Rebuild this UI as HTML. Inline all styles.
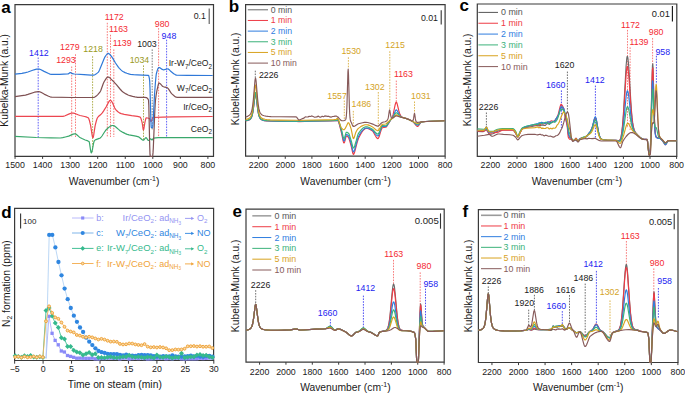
<!DOCTYPE html>
<html><head><meta charset="utf-8"><title>Figure</title>
<style>html,body{margin:0;padding:0;background:#fff;}svg{display:block;}text{font-family:"Liberation Sans",sans-serif;}</style>
</head><body>
<svg width="685" height="394" viewBox="0 0 685 394" font-family='"Liberation Sans", sans-serif'><rect width="685" height="394" fill="#fff"/><path d="M15 4.6 H213.5 V156.3 H15 Z" fill="none" stroke="#3a3a3a" stroke-width="1.2"/>
<line x1="15.05" y1="156.3" x2="15.05" y2="158.9" stroke="#3a3a3a" stroke-width="1.0"/>
<text x="15.05" y="168" font-size="8.8" fill="#1a1a1a" text-anchor="middle">1500</text>
<line x1="42.6" y1="156.3" x2="42.6" y2="158.9" stroke="#3a3a3a" stroke-width="1.0"/>
<text x="42.6" y="168" font-size="8.8" fill="#1a1a1a" text-anchor="middle">1400</text>
<line x1="70.15" y1="156.3" x2="70.15" y2="158.9" stroke="#3a3a3a" stroke-width="1.0"/>
<text x="70.15" y="168" font-size="8.8" fill="#1a1a1a" text-anchor="middle">1300</text>
<line x1="97.7" y1="156.3" x2="97.7" y2="158.9" stroke="#3a3a3a" stroke-width="1.0"/>
<text x="97.7" y="168" font-size="8.8" fill="#1a1a1a" text-anchor="middle">1200</text>
<line x1="125.25" y1="156.3" x2="125.25" y2="158.9" stroke="#3a3a3a" stroke-width="1.0"/>
<text x="125.25" y="168" font-size="8.8" fill="#1a1a1a" text-anchor="middle">1100</text>
<line x1="152.8" y1="156.3" x2="152.8" y2="158.9" stroke="#3a3a3a" stroke-width="1.0"/>
<text x="152.8" y="168" font-size="8.8" fill="#1a1a1a" text-anchor="middle">1000</text>
<line x1="180.35" y1="156.3" x2="180.35" y2="158.9" stroke="#3a3a3a" stroke-width="1.0"/>
<text x="180.35" y="168" font-size="8.8" fill="#1a1a1a" text-anchor="middle">900</text>
<line x1="207.9" y1="156.3" x2="207.9" y2="158.9" stroke="#3a3a3a" stroke-width="1.0"/>
<text x="207.9" y="168" font-size="8.8" fill="#1a1a1a" text-anchor="middle">800</text>
<text x="114.1" y="185.3" font-size="10.3" fill="#1a1a1a" text-anchor="middle">Wavenumber (cm<tspan font-size="7" dy="-4">-1</tspan><tspan dy="4">)</tspan></text>
<text transform="translate(8.4 80.3) rotate(-90)" font-size="10.3" fill="#1a1a1a" text-anchor="middle">Kubelka-Munk (a.u.)</text>
<text x="1.2" y="13.2" font-size="17" fill="#000" font-weight="bold">a</text>
<line x1="209.2" y1="8.6" x2="209.2" y2="23.9" stroke="#5a5a5a" stroke-width="1.1"/>
<text x="205.9" y="19.3" font-size="8.8" fill="#1a1a1a" text-anchor="end">0.1</text>
<line x1="38.2" y1="57.5" x2="38.2" y2="137.5" stroke="#3a3af5" stroke-width="0.8" stroke-dasharray="1.6 1.2"/>
<line x1="75.5" y1="54.3" x2="75.5" y2="137" stroke="#f55a5a" stroke-width="0.8" stroke-dasharray="1.6 1.2"/>
<line x1="71.7" y1="66.5" x2="71.7" y2="137" stroke="#f55a5a" stroke-width="0.8" stroke-dasharray="1.6 1.2"/>
<line x1="92.6" y1="56.2" x2="92.6" y2="152" stroke="#9a9a22" stroke-width="0.8" stroke-dasharray="1.6 1.2"/>
<line x1="107.3" y1="22.8" x2="107.3" y2="137" stroke="#f55a5a" stroke-width="0.8" stroke-dasharray="1.6 1.2"/>
<line x1="110.5" y1="34.8" x2="110.5" y2="137" stroke="#f55a5a" stroke-width="0.8" stroke-dasharray="1.6 1.2"/>
<line x1="113.8" y1="49.4" x2="113.8" y2="137" stroke="#f55a5a" stroke-width="0.8" stroke-dasharray="1.6 1.2"/>
<line x1="152.2" y1="49.4" x2="152.2" y2="130" stroke="#808080" stroke-width="1.0" stroke-dasharray="1.6 1.2"/>
<line x1="143.5" y1="65.4" x2="143.5" y2="140.4" stroke="#9a9a22" stroke-width="0.8" stroke-dasharray="1.6 1.2"/>
<line x1="158.6" y1="28.1" x2="158.6" y2="137.3" stroke="#f55a5a" stroke-width="0.8" stroke-dasharray="1.6 1.2"/>
<line x1="166.6" y1="39.7" x2="166.6" y2="137.3" stroke="#3a3af5" stroke-width="0.8" stroke-dasharray="1.6 1.2"/>
<polyline points="15,136.4 36.3,137.5 51,137.9 60.3,138 62.7,137.7 65.4,137 68.7,136.1 73.2,134.1 74.4,133.8 75.3,133.8 75.9,134.1 76.5,134.5 79.2,136.9 80.4,137.7 82.5,138.8 85.2,140 87.9,140.9 88.8,141.4 89.1,141.6 89.4,142.6 89.7,144.3 90.6,150.5 90.9,152 91.2,152.8 91.5,152.8 91.8,152.1 92.1,151 93.6,143.1 94.2,141 94.5,140.6 95.1,140.1 96,139.6 99.3,138.4 100.2,137.9 100.8,137.5 102,136 105,131.3 106.2,129.7 108.3,127.8 109.8,126.6 111,125.9 112.2,125.5 112.8,125.5 113.4,125.6 114.6,126.1 115.8,127 118.5,129.4 119.7,130.4 123,132.4 125.4,133.6 127.2,134.4 129,134.9 135.9,136.2 138.6,136.9 139.2,137.2 139.8,137.7 141.9,139.5 142.5,139.9 143.1,140.2 143.4,140.2 143.7,140.1 144.3,139.5 145.5,137.9 145.8,137.7 146.1,137.7 146.4,137.9 146.7,138.2 147.9,140.1 148.2,140.4 148.5,140.5 148.8,140.4 149.1,140.1 150,139.1 150.3,138.8 150.6,138.8 150.9,139 151.8,139.9 152.1,140 152.4,139.7 153.3,138.3 153.6,138.2 155.7,137.8 158.1,137.6 212.7,137.6" fill="none" stroke="#3aa86c" stroke-width="1.2" stroke-linejoin="round"/>
<polyline points="15,116.3 63,116.3 63.9,116.2 65.1,115.8 69.3,113.9 71.1,113.2 72.6,113 73.5,113.1 74.4,113.3 75.6,113.7 78.6,115 80.1,115.5 84.6,116.5 86.1,116.9 87.6,117.5 88.5,118.1 88.8,118.7 89.4,120.5 90.6,125.4 92.1,135.1 92.4,136.6 92.7,137.5 93,137.7 93.3,137 93.6,135.7 95.1,125.9 96.3,121 97.2,118.3 97.8,117.3 98.4,116.5 99.3,115.7 101.1,114.2 102.3,112.9 103.5,111.1 106.2,106.7 108.9,101.6 109.8,100.5 110.4,100.3 111,100.6 111.9,101.8 112.8,103.6 114.6,107.7 115.5,109.3 117.6,111.5 119.4,112.9 121.2,113.6 124.2,114.4 131.7,115.7 137.4,116.4 139.5,116.9 140.1,117.1 140.4,117.4 141,118.6 141.9,121.6 142.2,123 143.1,129.2 143.4,130 143.7,129.4 144,128 144.9,122.4 145.8,118.6 146.1,117.9 147.6,118 149.4,118.5 149.7,118.7 150.6,121 150.9,121.5 151.2,121.4 151.5,120.9 152.4,118.4 152.7,117.8 153,117.5 162.6,117.1 173.1,116.9 212.7,116.5" fill="none" stroke="#ec4650" stroke-width="1.2" stroke-linejoin="round"/>
<polyline points="15,96.7 21.9,95.7 25.5,95.1 27.9,94.4 34.5,92.2 36.6,91.8 38.4,91.6 39.3,91.7 40.5,92.1 44.1,94.1 48.6,96.2 50.1,96.8 51.6,97.2 72,97.5 93.6,97.5 94.8,97.1 96.3,96.1 97.8,94.6 99.9,92.1 100.8,90.5 103.2,83.7 104.1,81.8 105.9,78.9 106.8,77.7 107.7,77.1 108,77 108.6,77.1 109.2,77.4 109.8,77.9 113.1,81.1 116.4,84.7 120,89 121.8,91 123.3,92.2 126,93.9 128.1,95 129.9,95.7 132.6,96.4 135,96.9 137.7,97.3 144.6,97.4 146.4,97.6 147.3,98.2 148.2,99.4 148.5,100 148.8,105.1 149.7,144.9 150,154.4 150.3,156.5 152.4,156.5 152.7,155.9 153,152.9 153.3,148 154.8,111.4 155.4,101 156,96 156.9,90.7 158.4,84.2 158.7,83.4 159,83.1 159.6,83.3 160.2,83.7 162,85.7 162.9,86.5 163.8,86.8 166.2,87.3 167.4,87.8 168,88.4 168.6,89.2 170.7,92.4 171.6,93.6 174.6,96.3 175.5,96.9 176.4,97.2 177,97.3 212.7,97.3" fill="none" stroke="#7e5052" stroke-width="1.2" stroke-linejoin="round"/>
<polyline points="15,74.1 21.9,73.3 25.5,72.7 27.9,72 32.7,70.3 34.8,69.6 36.6,69.2 38.4,69 39.3,69.1 40.5,69.5 44.1,71.4 48.6,73.5 50.1,74.1 51.3,74.4 59.7,74.3 67.8,73.9 68.4,73.8 69.6,72.9 70.2,72.6 70.8,72.7 72.3,73.7 74.4,74 84,74.6 90.9,75.1 93,75.2 93.9,75.1 94.8,74.8 96,74.1 97.5,72.9 98.4,72.1 99,71.1 99.6,69.8 104.1,58.7 105,56.8 105.9,55.5 107.1,54 108,53.4 108.6,53.4 109.2,53.8 109.8,54.4 111.9,57 112.8,58.4 115.5,63 118.5,67.3 119.4,68.4 120.9,69.9 122.1,70.9 123,71.5 125.1,72.6 126.9,73.3 128.7,73.9 130.5,74.3 133.5,74.7 137.1,74.9 148.2,75.4 148.5,75.4 148.8,75.8 149.4,78.7 149.7,81.1 150,88.3 150.9,121.4 151.2,127.2 151.5,127.6 152.4,127.6 152.7,126.9 153,123.7 154.5,95 155.4,82.9 156,76.3 156.3,74 157.2,70.6 158.1,68.3 158.7,67.6 159,67.5 159.3,67.5 159.9,67.7 162.3,69.4 163.2,69.8 164.4,69.7 167.1,69 168,68.9 168.3,69 169.2,69.7 170.7,71.3 173.7,73.7 175.2,74.6 176.4,75.1 187.8,75.3 212.7,75.5" fill="none" stroke="#2f78d8" stroke-width="1.2" stroke-linejoin="round"/>
<text x="29.1" y="56.1" font-size="8.8" fill="#2424f0">1412</text>
<text x="60" y="49.8" font-size="8.8" fill="#f42a32">1279</text>
<text x="56.2" y="63.1" font-size="8.8" fill="#f42a32">1293</text>
<text x="83.3" y="52.4" font-size="8.8" fill="#9a9a22">1218</text>
<text x="104.8" y="20" font-size="8.8" fill="#f42a32">1172</text>
<text x="109.1" y="31.9" font-size="8.8" fill="#f42a32">1163</text>
<text x="112.7" y="45.9" font-size="8.8" fill="#f42a32">1139</text>
<text x="137.2" y="46.8" font-size="8.8" fill="#1a1a1a">1003</text>
<text x="129.7" y="62.8" font-size="8.8" fill="#9a9a22">1034</text>
<text x="154.8" y="26.7" font-size="8.8" fill="#f42a32">980</text>
<text x="161.6" y="38.8" font-size="8.8" fill="#2424f0">948</text>
<text x="212" y="66.4" font-size="8.6" fill="#1a1a1a" text-anchor="end">Ir-W<tspan font-size="6.3" dy="2.2">7</tspan><tspan dy="-2.2">/CeO</tspan><tspan font-size="6.3" dy="2.2">2</tspan></text>
<text x="212" y="91.2" font-size="8.6" fill="#1a1a1a" text-anchor="end">W<tspan font-size="6.3" dy="2.2">7</tspan><tspan dy="-2.2">/CeO</tspan><tspan font-size="6.3" dy="2.2">2</tspan></text>
<text x="212" y="110" font-size="8.6" fill="#1a1a1a" text-anchor="end">Ir/CeO<tspan font-size="6.3" dy="2.2">2</tspan></text>
<text x="212" y="131.9" font-size="8.6" fill="#1a1a1a" text-anchor="end">CeO<tspan font-size="6.3" dy="2.2">2</tspan></text>
<path d="M245.6 4.6 H445.1 V156.2 H245.6 Z" fill="none" stroke="#3a3a3a" stroke-width="1.2"/>
<line x1="258.6" y1="156.2" x2="258.6" y2="158.8" stroke="#3a3a3a" stroke-width="1.0"/>
<text x="258.6" y="168" font-size="8.8" fill="#1a1a1a" text-anchor="middle">2200</text>
<line x1="285.25" y1="156.2" x2="285.25" y2="158.8" stroke="#3a3a3a" stroke-width="1.0"/>
<text x="285.25" y="168" font-size="8.8" fill="#1a1a1a" text-anchor="middle">2000</text>
<line x1="311.9" y1="156.2" x2="311.9" y2="158.8" stroke="#3a3a3a" stroke-width="1.0"/>
<text x="311.9" y="168" font-size="8.8" fill="#1a1a1a" text-anchor="middle">1800</text>
<line x1="338.55" y1="156.2" x2="338.55" y2="158.8" stroke="#3a3a3a" stroke-width="1.0"/>
<text x="338.55" y="168" font-size="8.8" fill="#1a1a1a" text-anchor="middle">1600</text>
<line x1="365.2" y1="156.2" x2="365.2" y2="158.8" stroke="#3a3a3a" stroke-width="1.0"/>
<text x="365.2" y="168" font-size="8.8" fill="#1a1a1a" text-anchor="middle">1400</text>
<line x1="391.85" y1="156.2" x2="391.85" y2="158.8" stroke="#3a3a3a" stroke-width="1.0"/>
<text x="391.85" y="168" font-size="8.8" fill="#1a1a1a" text-anchor="middle">1200</text>
<line x1="418.5" y1="156.2" x2="418.5" y2="158.8" stroke="#3a3a3a" stroke-width="1.0"/>
<text x="418.5" y="168" font-size="8.8" fill="#1a1a1a" text-anchor="middle">1000</text>
<line x1="445.15" y1="156.2" x2="445.15" y2="158.8" stroke="#3a3a3a" stroke-width="1.0"/>
<text x="445.15" y="168" font-size="8.8" fill="#1a1a1a" text-anchor="middle">800</text>
<text x="345.6" y="184.9" font-size="10.3" fill="#1a1a1a" text-anchor="middle">Wavenumber (cm<tspan font-size="7" dy="-4">-1</tspan><tspan dy="4">)</tspan></text>
<text transform="translate(239.1 78.8) rotate(-90)" font-size="10.3" fill="#1a1a1a" text-anchor="middle">Kubelka-Munk (a.u.)</text>
<text x="228.8" y="12.4" font-size="17" fill="#000" font-weight="bold">b</text>
<line x1="441.2" y1="10.3" x2="441.2" y2="24.5" stroke="#333" stroke-width="1.1"/>
<text x="438" y="20.8" font-size="8.8" fill="#1a1a1a" text-anchor="end">0.01</text>
<line x1="247.8" y1="9.8" x2="268" y2="9.8" stroke="#6a6a6a" stroke-width="1.0"/>
<text x="270.8" y="12.8" font-size="8.7" fill="#555555">0 min</text>
<line x1="247.8" y1="20.46" x2="268" y2="20.46" stroke="#ee3b45" stroke-width="1.0"/>
<text x="270.8" y="23.46" font-size="8.7" fill="#ee3b45">1 min</text>
<line x1="247.8" y1="31.12" x2="268" y2="31.12" stroke="#2f7ddf" stroke-width="1.0"/>
<text x="270.8" y="34.12" font-size="8.7" fill="#2f7ddf">2 min</text>
<line x1="247.8" y1="41.78" x2="268" y2="41.78" stroke="#3bb27a" stroke-width="1.0"/>
<text x="270.8" y="44.78" font-size="8.7" fill="#3bb27a">3 min</text>
<line x1="247.8" y1="52.44" x2="268" y2="52.44" stroke="#d8a21e" stroke-width="1.0"/>
<text x="270.8" y="55.44" font-size="8.7" fill="#d8a21e">5 min</text>
<line x1="247.8" y1="63.1" x2="268" y2="63.1" stroke="#875a5a" stroke-width="1.0"/>
<text x="270.8" y="66.1" font-size="8.7" fill="#875a5a">10 min</text>
<line x1="255.3" y1="70.7" x2="255.3" y2="78" stroke="#4a4a4a" stroke-width="0.8" stroke-dasharray="1.6 1.2"/>
<line x1="344.3" y1="100.5" x2="344.3" y2="121" stroke="#d4a326" stroke-width="0.8" stroke-dasharray="1.6 1.2"/>
<line x1="348.4" y1="57.3" x2="348.4" y2="68.5" stroke="#d4a326" stroke-width="0.8" stroke-dasharray="1.6 1.2"/>
<line x1="353.3" y1="110.9" x2="353.3" y2="126" stroke="#d4a326" stroke-width="0.8" stroke-dasharray="1.6 1.2"/>
<line x1="378.3" y1="92" x2="378.3" y2="130" stroke="#d4a326" stroke-width="0.8" stroke-dasharray="1.6 1.2"/>
<line x1="389.8" y1="51.3" x2="389.8" y2="109.5" stroke="#d4a326" stroke-width="0.8" stroke-dasharray="1.6 1.2"/>
<line x1="396.3" y1="80.6" x2="396.3" y2="102" stroke="#f55a5a" stroke-width="0.8" stroke-dasharray="1.6 1.2"/>
<line x1="414.5" y1="101.5" x2="414.5" y2="113" stroke="#d4a326" stroke-width="0.8" stroke-dasharray="1.6 1.2"/>
<polyline points="245.6,120.9 248,120.4 249.5,119.8 250.1,119.4 250.7,118.8 251.3,117.8 251.6,117.2 252.2,115.4 252.8,112.6 253.4,108.7 254.9,96.4 255.2,94.9 255.5,94.3 255.8,94.9 256.1,96.4 257.6,108.7 258.2,112.6 258.8,115.3 259.4,117.1 259.7,117.8 260.3,118.7 261.2,119.5 262.7,120.2 264.2,120.6 266,120.9 271.1,121.2 279.8,121.4 296.3,121.5 299,121.6 311,121.2 331.1,121 335.9,120.8 337.4,120.5 337.7,120.5 338,120.8 338.6,122.1 339.5,125 341.6,133.4 343.1,140.9 343.7,142.7 344,143 344.3,142.7 344.6,142 345.8,137.3 346.1,136.5 346.4,136 346.7,136 347.3,136.3 348.2,137.2 348.8,138.1 349.7,140.8 351.2,146.2 352.7,152.8 353,153.7 353.3,154.3 353.6,154.4 353.9,154 354.5,152.6 357.5,141.2 358.4,138.5 360.5,134.4 362,132 363.5,130 364.7,129 365.6,128.5 366.2,128.4 367.7,128.5 369.5,129.2 372.2,130.7 372.8,131.3 373.4,132.2 375.5,136 376.4,137.5 377.3,138.4 377.9,138.6 378.2,138.5 378.5,138.1 379.1,136.8 380.9,130.8 381.8,128.5 382.1,128 382.4,127.8 385.4,127.3 386,127.1 386.3,126.9 386.9,126.1 388.7,123.2 390.5,120.1 392,117.7 392.6,116.2 393.2,114.2 395.3,104.2 395.9,102.5 396.2,102.2 396.5,102.3 396.8,102.8 397.1,103.7 398.9,111 399.5,113.1 400.1,114.6 401,116.1 401.6,116.7 402.5,117.2 408.2,119.1 410.3,120.1 412.4,121.2 413,121.7 413.6,122.4 416,125.4 416.6,126 417.2,126.3 417.8,126.3 418.4,125.9 420.8,122.4 421.4,121.9 421.7,121.9 425.3,121.5 429.5,121.2 444.8,120.7" fill="none" stroke="#ee3b45" stroke-width="1.15" stroke-linejoin="round"/>
<polyline points="245.6,120.8 248,120.3 249.5,119.7 250.1,119.2 250.7,118.6 251.3,117.7 251.6,117 252.2,115.1 252.8,112.3 253.4,108.4 254.9,95.8 255.2,94.3 255.5,93.7 255.8,94.3 256.1,95.8 257.6,108.3 258.5,113.8 259.1,116.1 259.7,117.6 260.6,118.9 261.5,119.6 262.7,120.1 264.5,120.6 266.6,120.8 269.6,121 277.1,121.2 296,121.4 299,121.5 311,121.1 332.3,120.8 335.9,120.7 336.2,120.7 337.4,120.2 337.7,120.2 338,120.5 338.6,121.5 339.5,124.1 341.6,131.6 343.1,138.9 343.7,140.7 344,141 344.3,140.7 344.6,140 345.8,135.7 346.1,134.9 346.4,134.5 346.7,134.5 347.3,134.7 348.5,135.7 348.8,136.2 349.4,137.7 351.2,143.7 352.7,150.3 353,151.2 353.3,151.8 353.6,151.9 353.9,151.6 354.2,151 354.8,149.2 358.1,137.2 359.3,134.9 360.8,132.5 362,130.9 363.2,129.6 364.7,128.5 365.9,128 367.4,128.1 368.3,128.3 369.5,128.7 372.5,130.2 373.4,131.2 375.5,134 376.4,135.1 377.3,135.8 377.9,136 378.2,135.8 378.5,135.5 379.1,134.3 380.9,128.9 381.8,126.9 382.1,126.6 382.4,126.4 386,126.4 386.6,126 388.7,123 390.8,119.6 392,118.4 392.6,117.6 393.5,115.8 395.3,111 395.9,110 396.2,109.9 396.5,110 397.1,110.6 399.2,114.6 400.1,115.9 401,116.7 402.2,117.3 407.6,118.9 410.9,120.5 413,121.7 415.7,124.2 416.6,124.9 417.2,125.1 417.8,125.2 418.4,124.8 420.8,122.3 421.4,121.9 421.7,121.9 425.3,121.5 429.5,121.2 444.8,120.7" fill="none" stroke="#2f7ddf" stroke-width="1.15" stroke-linejoin="round"/>
<polyline points="245.6,120.6 248,120 249.5,119.4 250.1,119 250.7,118.3 251.3,117.3 251.6,116.7 252.2,114.7 252.8,111.8 253.4,107.7 254.9,94.8 255.2,93.2 255.5,92.6 255.8,93.2 256.1,94.8 257.6,107.7 258.5,113.4 259.1,115.8 259.7,117.3 260.6,118.6 261.5,119.3 262.7,119.9 264.5,120.3 266.6,120.6 269.6,120.8 277.1,121 296,121.2 299,121.3 310.4,120.9 327.2,120.8 335,120.5 336.2,120.4 337.1,119.7 337.4,119.5 337.7,119.5 338,119.8 338.6,120.7 339.5,123.1 341.6,130 343.1,136.7 343.7,138.3 344,138.6 344.3,138.3 344.6,137.7 345.8,133.4 346.1,132.6 346.4,132.2 346.7,132.2 347.3,132.4 348.5,133.2 348.8,133.6 349.4,135 351.2,140.6 352.7,146.6 353,147.4 353.3,147.9 353.6,148 353.9,147.7 354.2,147.2 354.8,145.5 356.3,140.5 357.5,135.9 358.1,134.1 359,132.6 360.5,130.6 361.7,129.2 362.9,128.1 364.4,127.2 365.6,126.8 366.2,126.7 367.1,126.7 368.6,127.2 370.1,127.9 372.5,129.2 373.4,130.1 375.8,132.8 376.7,133.6 377.6,134 377.9,134.1 378.2,134 378.5,133.7 379.1,132.6 380.9,127.8 381.8,126 382.1,125.7 382.4,125.6 385.7,125.7 386,125.7 386.3,125.6 386.9,124.9 390.5,119.9 391.1,119.3 392.3,118.4 392.9,117.7 393.5,116.8 395.3,113.5 395.9,112.8 396.2,112.7 396.5,112.7 397.1,113.1 399.2,115.5 400.7,116.8 401.9,117.3 406.7,118.7 408.8,119.5 412.7,121.4 415.7,123.6 416.6,124.1 417.2,124.2 417.8,124.3 418.4,124 420.8,122.2 421.7,121.9 425.3,121.5 429.5,121.3 444.8,120.7" fill="none" stroke="#3bb27a" stroke-width="1.15" stroke-linejoin="round"/>
<polyline points="245.6,119.5 248,118.9 249.5,118.1 250.1,117.5 250.7,116.7 251.3,115.5 251.6,114.7 252.2,112.3 252.8,108.8 253.4,103.7 254.9,87.8 255.2,85.8 255.5,85.1 255.8,85.8 256.1,87.8 257.6,103.7 258.2,108.7 258.8,112.3 259.4,114.7 260,116.2 260.9,117.5 262.1,118.4 263.3,118.9 265.1,119.3 267.2,119.7 270.2,119.9 278.9,120.1 296,120.2 299,120.5 303.8,120.2 325.7,119.9 333.2,119.7 336.2,119.4 337.1,118.5 337.4,118.3 337.7,118.4 338,118.7 338.6,120 340.4,125.9 341,127.3 341.3,127.8 342.2,128.7 342.8,129.2 343.4,129.6 344,129.7 344.3,129.6 344.6,129.3 345.2,128.4 346.7,125.5 347.9,123 348.2,122.7 348.5,122.7 348.8,123 349.1,123.4 349.7,124.8 351.2,129.1 352.7,136.6 353,137.8 353.3,138.4 353.6,138.6 353.9,138.2 354.2,137.6 355.7,132.7 356,132 357.2,129.8 357.8,129 358.4,128.4 360.2,127.1 361.7,126.1 363.5,125.3 365,124.8 366.5,124.7 368,124.9 369.8,125.6 372.5,126.9 373.4,127.6 375.8,129.7 376.7,130.3 377.6,130.7 378.2,130.6 378.5,130.4 379.1,129.6 381.2,125.6 381.8,124.8 382.1,124.5 383,124.2 385.4,124 386.3,123.7 388.4,121.8 390.5,119.6 391.1,119.2 392.3,118.6 392.9,118.1 393.5,117.6 395.3,115.4 395.9,115 396.2,114.9 397.1,115.1 400.1,116.7 401,117.1 405.8,118.4 407.3,118.9 415.4,122.7 416.3,123.1 417.2,123.3 417.8,123.3 418.4,123.2 421.1,122 423.2,121.7 430.4,121.2 444.8,120.7" fill="none" stroke="#d8a21e" stroke-width="1.15" stroke-linejoin="round"/>
<polyline points="245.6,117 246.8,116.6 248,116.1 248.9,115.6 249.5,115.1 250.1,114.5 250.7,113.6 251.3,112.2 251.6,111.3 252.2,108.6 252.8,104.6 253.4,99 254.9,81.2 255.2,79 255.5,78.2 255.8,79 256.1,81.1 257.6,98.7 258.2,104.3 258.8,108.2 259.4,110.8 259.7,111.7 260.3,113 261.2,114.2 261.8,114.7 262.7,115.2 264.2,115.7 266,116.1 268.1,116.4 271.1,116.6 279.8,116.8 296,116.9 296.3,117 296.6,117.2 298.4,119.6 298.7,119.9 299,119.9 300.2,119.7 302.6,118.6 303.8,118.1 304.1,118 305.3,116.9 306.5,117 308,116.9 309.2,116.4 310.4,116.5 311.6,116 311.9,115.9 314.3,117.1 314.6,117.2 317,116.9 318.2,116.1 318.5,116.2 319.7,117.1 320.9,117.1 322.1,116.2 322.4,116.2 323.3,116.7 323.6,116.7 324.8,115.9 327.5,116.4 328.7,116.2 329.9,116.9 331.1,117.1 331.4,117.1 332.6,116.5 333.8,116.4 335.3,116.1 336.5,116.1 337.7,117.2 338,117.1 338.3,117.3 340.1,119.5 341,120.4 341.9,120.7 342.8,120.8 343.7,120.7 344.6,120.5 345.2,120.1 345.5,119.8 345.8,119.2 346.1,118 346.4,115.5 346.7,111.1 347,103.7 347.9,71.9 348.2,69.1 348.5,74.8 349.4,107.3 349.7,113.8 350,117.7 350.3,119.9 350.6,121.1 352.4,125.1 353,126.2 353.3,126.5 353.9,126.5 354.5,126.3 357.5,124.2 358.4,123.8 360.5,123.2 362.6,122.7 364.4,122.4 365.9,122.4 367.7,122.5 369.5,123 372.8,124.1 375.5,125.4 376.7,125.9 377.9,126.1 378.5,125.9 379.4,125.2 381.2,123.2 381.8,122.7 382.7,122.2 385.1,121.7 386,121.4 386.6,120.9 387.5,119.8 388.1,118.4 388.4,117.2 389.3,110.9 389.6,109.9 389.9,110.6 390.5,114.5 390.8,116.1 391.1,117.2 391.4,117.7 391.7,117.9 392,118 392.6,117.9 393.2,117.7 395.6,116.1 396.2,115.9 396.8,116 400.7,117.1 406.1,118.5 407.6,119.1 410.9,120.6 411.8,120.9 412.4,121 412.7,120.9 413,120.6 413.3,119.8 413.6,118.4 414.2,114.3 414.5,113.4 414.8,114.5 415.4,118.9 415.7,120.5 416,121.4 416.3,121.9 416.6,122.1 417.2,122.3 418.4,122.3 421.4,121.9 427.1,121.5 444.8,120.7" fill="none" stroke="#875a5a" stroke-width="1.15" stroke-linejoin="round"/>
<text x="258.9" y="77.8" font-size="8.8" fill="#1a1a1a">2226</text>
<text x="341.4" y="53.8" font-size="8.8" fill="#d4a326">1530</text>
<text x="327.3" y="98.5" font-size="8.8" fill="#d4a326">1557</text>
<text x="351.6" y="107.4" font-size="8.8" fill="#d4a326">1486</text>
<text x="365" y="89.5" font-size="8.8" fill="#d4a326">1302</text>
<text x="385.3" y="47.8" font-size="8.8" fill="#d4a326">1215</text>
<text x="393.9" y="77.1" font-size="8.8" fill="#f42a32">1163</text>
<text x="411.1" y="99.3" font-size="8.8" fill="#d4a326">1031</text>
<path d="M477.3 4 H676.8 V156.3 H477.3 Z" fill="none" stroke="#3a3a3a" stroke-width="1.2"/>
<line x1="490.4" y1="156.3" x2="490.4" y2="158.9" stroke="#3a3a3a" stroke-width="1.0"/>
<text x="490.4" y="168" font-size="8.8" fill="#1a1a1a" text-anchor="middle">2200</text>
<line x1="517" y1="156.3" x2="517" y2="158.9" stroke="#3a3a3a" stroke-width="1.0"/>
<text x="517" y="168" font-size="8.8" fill="#1a1a1a" text-anchor="middle">2000</text>
<line x1="543.6" y1="156.3" x2="543.6" y2="158.9" stroke="#3a3a3a" stroke-width="1.0"/>
<text x="543.6" y="168" font-size="8.8" fill="#1a1a1a" text-anchor="middle">1800</text>
<line x1="570.2" y1="156.3" x2="570.2" y2="158.9" stroke="#3a3a3a" stroke-width="1.0"/>
<text x="570.2" y="168" font-size="8.8" fill="#1a1a1a" text-anchor="middle">1600</text>
<line x1="596.8" y1="156.3" x2="596.8" y2="158.9" stroke="#3a3a3a" stroke-width="1.0"/>
<text x="596.8" y="168" font-size="8.8" fill="#1a1a1a" text-anchor="middle">1400</text>
<line x1="623.4" y1="156.3" x2="623.4" y2="158.9" stroke="#3a3a3a" stroke-width="1.0"/>
<text x="623.4" y="168" font-size="8.8" fill="#1a1a1a" text-anchor="middle">1200</text>
<line x1="650" y1="156.3" x2="650" y2="158.9" stroke="#3a3a3a" stroke-width="1.0"/>
<text x="650" y="168" font-size="8.8" fill="#1a1a1a" text-anchor="middle">1000</text>
<line x1="676.6" y1="156.3" x2="676.6" y2="158.9" stroke="#3a3a3a" stroke-width="1.0"/>
<text x="676.6" y="168" font-size="8.8" fill="#1a1a1a" text-anchor="middle">800</text>
<text x="577" y="184.9" font-size="10.3" fill="#1a1a1a" text-anchor="middle">Wavenumber (cm<tspan font-size="7" dy="-4">-1</tspan><tspan dy="4">)</tspan></text>
<text transform="translate(471 79.8) rotate(-90)" font-size="10.3" fill="#1a1a1a" text-anchor="middle">Kubelka-Munk (a.u.)</text>
<text x="459.5" y="11.3" font-size="17" fill="#000" font-weight="bold">c</text>
<line x1="672.4" y1="6.1" x2="672.4" y2="21.5" stroke="#111" stroke-width="1.1"/>
<text x="669.9" y="16.8" font-size="9.3" fill="#1a1a1a" text-anchor="end">0.01</text>
<line x1="478.4" y1="12.4" x2="498" y2="12.4" stroke="#555555" stroke-width="1.0"/>
<text x="501" y="15.4" font-size="8.9" fill="#555555">0 min</text>
<line x1="478.4" y1="23.24" x2="498" y2="23.24" stroke="#ee3b45" stroke-width="1.0"/>
<text x="501" y="26.24" font-size="8.9" fill="#ee3b45">1 min</text>
<line x1="478.4" y1="34.08" x2="498" y2="34.08" stroke="#2f7ddf" stroke-width="1.0"/>
<text x="501" y="37.08" font-size="8.9" fill="#2f7ddf">2 min</text>
<line x1="478.4" y1="44.92" x2="498" y2="44.92" stroke="#3bb27a" stroke-width="1.0"/>
<text x="501" y="47.92" font-size="8.9" fill="#3bb27a">3 min</text>
<line x1="478.4" y1="55.76" x2="498" y2="55.76" stroke="#d8a21e" stroke-width="1.0"/>
<text x="501" y="58.76" font-size="8.9" fill="#d8a21e">5 min</text>
<line x1="478.4" y1="66.6" x2="498" y2="66.6" stroke="#875a5a" stroke-width="1.0"/>
<text x="501" y="69.6" font-size="8.9" fill="#875a5a">10 min</text>
<line x1="486.4" y1="112.5" x2="486.4" y2="127" stroke="#4a4a4a" stroke-width="0.8" stroke-dasharray="1.6 1.2"/>
<line x1="561.4" y1="90.4" x2="561.4" y2="128" stroke="#2424f0" stroke-width="0.8" stroke-dasharray="1.6 1.2"/>
<line x1="567.4" y1="71.6" x2="567.4" y2="113" stroke="#4a4a4a" stroke-width="0.8" stroke-dasharray="1.6 1.2"/>
<line x1="595.4" y1="85.6" x2="595.4" y2="139" stroke="#2424f0" stroke-width="0.8" stroke-dasharray="1.6 1.2"/>
<line x1="627.5" y1="29.9" x2="627.5" y2="128" stroke="#f55a5a" stroke-width="0.8" stroke-dasharray="1.6 1.2"/>
<line x1="630.1" y1="47.4" x2="630.1" y2="130" stroke="#f55a5a" stroke-width="0.8" stroke-dasharray="1.6 1.2"/>
<line x1="652.6" y1="38" x2="652.6" y2="64" stroke="#f55a5a" stroke-width="0.8" stroke-dasharray="1.6 1.2"/>
<line x1="656.4" y1="55.8" x2="656.4" y2="84" stroke="#2424f0" stroke-width="0.8" stroke-dasharray="1.6 1.2"/>
<polyline points="477.3,131.5 482.1,131.6 483,131.6 483.6,131.4 484.2,131 484.5,130.6 486,127.3 486.3,127 486.6,127.1 486.9,127.7 487.8,131 488.4,132.8 489,133.8 489.3,134 489.9,134.2 491.1,134.1 492.9,133.7 494.1,133.2 496.5,131.8 497.7,131.2 500.1,130.4 501.6,130.1 502.8,130 513,130 513.6,130.4 514.5,131.5 515.7,133.3 517.2,136.5 517.5,136.8 517.8,137 518.1,136.8 518.7,135.9 519.9,133.2 521.7,129.6 522.3,128.8 522.9,128.4 525,127.8 529.8,127 537.6,125.2 538.8,125.9 539.1,125.9 541.5,125.1 542.7,124.9 544.2,125.5 545.4,125.4 546.6,124 546.9,123.8 547.8,123.5 548.1,123.5 549.3,124.3 550.5,122.6 550.8,122.5 551.7,122.6 552,122.6 553.2,121.5 554.4,121.4 555,120.7 555.9,119.1 558.3,115.7 558.9,113.9 560.4,108.3 560.7,107.6 561,107.1 561.3,106.9 561.6,106.9 562.2,107.2 562.8,108.3 563.7,110.2 564.3,112.4 565.5,118 566.7,122.4 567.3,125.4 568.2,133.9 568.5,135 569.1,136.5 569.7,137.4 570.3,137.9 571.2,138.2 571.8,138.9 572.7,140.2 573,140.4 573.6,140.4 574.2,140.2 574.5,140 575.4,138.8 576,138.2 576.3,138.4 576.6,138.7 577.8,140.7 578.1,141 578.4,141 579,140.6 579.9,139.1 580.8,138.2 582.3,138.2 584.1,137.7 585.6,137.4 590.1,132 591.3,129.9 591.9,128.5 592.5,126.7 594.3,119.8 594.9,118.3 595.2,117.9 595.5,118 595.8,118.4 596.4,120.4 598.2,130.5 599.1,134.7 600,137.4 600.3,137.9 600.9,138.7 601.5,139.2 602.1,139.4 603.9,139.7 607.2,140 616.2,140.2 618.3,140.6 619.2,140.5 619.8,140.1 620.4,139.1 621,137.1 621.9,131.4 622.5,125.6 623.1,118.3 623.7,109.2 626.1,66 626.7,59.1 627,57.2 627.3,56.3 627.6,56.6 627.9,58 628.5,63.6 629.1,72.3 630.9,102.9 631.5,111.3 632.1,117.9 632.7,122.9 633.3,126.5 634.2,129.9 635.1,131.9 636,133.2 637.8,135.2 639.9,137.2 641.4,138.3 642.3,138.8 643.2,139.1 647.1,139.4 647.4,140 648.9,153.6 649.2,154.4 649.5,153.7 649.8,152.5 650.1,150.5 650.4,147.1 650.7,138.3 651.3,108.2 652.2,72.1 652.5,65 652.8,63.8 653.1,68.9 654.3,113.8 654.6,122.2 654.9,128.2 655.2,132.1 655.5,134.5 655.8,135.9 656.1,136.7 656.4,137.1 657,137.6 657.9,137.9 660,138.4 661.2,139.2 662.7,140.4 664.8,143 665.4,143.3 666,143.1 667.8,141 668.4,140.7 676.5,140.7" fill="none" stroke="#6a6a6a" stroke-width="1.15" stroke-linejoin="round"/>
<polyline points="477.3,131 483.6,131.2 484.5,131 485.7,130.3 486.3,130.2 486.6,130.3 486.9,130.6 488.4,132.7 489,133.1 489.9,133.2 496.2,132.4 498.3,132.1 499.2,131.8 501.6,130.5 502.5,130.2 513,130.2 513.3,130.3 513.9,130.9 515.4,132.9 516,133.9 517.2,136.5 517.5,136.8 517.8,137 518.1,136.8 518.4,136.5 519.9,133.2 522,129.2 522.6,128.6 524.4,127.6 527.1,126.7 531.6,125.6 534.9,124.9 537.6,125 538.8,124.4 540,124.7 540.3,124.7 541.5,123.3 542.7,123.8 543.9,124 544.2,123.9 545.4,122.6 546.6,122.9 548.1,122.2 549.3,122.2 550.5,121.3 551.7,120.8 552,120.9 553.2,121.8 555.6,119.7 557.1,117.3 558.3,114.1 560.1,106.7 560.7,104.8 561,104.3 561.3,104.4 561.6,104.6 562.8,106.4 563.7,108.2 564,109.3 565.5,118 566.7,123.6 567.3,127.2 568.2,136.9 569.1,138.7 569.7,139.3 571.2,139.5 571.5,139.5 571.8,139.6 572.7,140.5 573,140.7 573.3,140.7 574.2,140.2 575.4,138.9 576,138.4 576.3,138.8 576.6,139.3 577.5,141.4 577.8,141.7 578.1,141.6 578.4,141.3 579.3,139.5 579.9,138.8 580.8,138.4 582.3,137.6 584.1,137.4 585.3,137.1 585.6,137 586.5,136.4 587.4,135.5 588.9,133.4 590.1,132 591.3,129.9 591.9,128.5 592.5,126.7 594.3,119.8 594.9,118.3 595.2,118 595.5,118 595.8,118.4 596.4,120.4 598.2,130.6 599.1,134.8 600,137.4 600.3,137.9 600.9,138.7 601.5,139.2 602.1,139.4 603.9,139.8 606.9,140 615.9,140.3 618.3,140.7 619.2,140.7 619.8,140.3 620.4,139.5 621,137.7 621.9,132.6 622.5,127.4 623.1,120.9 623.7,112.9 626.1,74.9 626.7,68.9 627,67.1 627.3,66.3 627.6,66.5 627.9,67.7 628.5,72.6 629.1,80 630.6,102.5 631.5,113.9 632.4,122.1 633.3,127.2 634.2,130.2 635.1,132 636.6,134 639.6,137 641.1,138.2 642.6,138.9 643.8,139.2 646.2,139.3 647.1,139.4 647.4,140.1 648.6,151.4 648.9,153.7 649.2,154.5 649.5,153.9 649.8,152.8 650.1,150.8 650.4,147.6 650.7,139.1 651.3,109.9 652.2,75.7 652.5,68.9 652.8,67.8 653.1,72.6 654.3,115.1 654.6,123.1 654.9,128.8 655.2,132.5 655.5,134.8 655.8,136.1 656.1,136.8 656.7,137.5 657.9,138 659.7,138.3 660.3,138.6 660.9,139.1 662.7,141 664.5,144 665.1,144.6 665.4,144.7 665.7,144.6 666,144.3 667.8,141.2 668.1,140.9 668.4,140.7 676.5,140.7" fill="none" stroke="#ee3b45" stroke-width="1.15" stroke-linejoin="round"/>
<polyline points="477.3,130 483.6,130.2 484.5,130 485.7,129.4 486.3,129.2 486.6,129.4 486.9,129.7 488.1,131.5 488.7,132.1 489.3,132.3 490.2,132.4 492.9,132 494.1,131.6 497.4,130.2 499.8,129.8 501.9,129.5 504,129.5 513,129.3 513.6,129.6 514.2,130.2 515.7,132.3 517.2,136.2 517.5,136.7 517.8,136.9 518.1,136.7 518.4,136.2 519.9,132.2 521.7,129.1 522.6,128.1 524.4,127.1 525.9,126.6 527.4,126.1 531.6,125.1 534.9,124.4 536.4,123.7 537.6,123.7 538.8,122.9 540.3,122.9 541.5,122.3 542.7,122.5 544.2,123.1 545.4,123.4 547.8,121.8 548.1,121.7 549.3,122.2 550.5,122 551.7,122.2 552,122.1 553.2,121.3 554.4,121.6 555,120.9 557.1,117.1 558,115.9 558.3,115.3 558.9,113.6 560.4,108.2 560.7,107.4 561,106.9 561.3,106.7 561.6,106.7 562.2,106.8 562.5,107.1 563.7,108.6 564,109.3 564.6,111.3 566.4,118.6 567,121.5 567.6,125.8 568.2,132 568.8,134.4 569.4,136 570,137.1 571.5,138.9 572.4,140.1 573,140.6 573.6,140.7 574.2,140.6 575.4,139.8 576,139.6 576.3,139.7 577.5,141.6 577.8,141.7 578.1,141.6 578.4,141.2 579.3,139.2 579.9,138.7 580.8,138.6 582.3,137.7 582.6,137.7 583.8,137.9 584.1,137.9 585.6,136.4 586.5,136.4 587.1,136.2 587.4,135.8 588.9,133.1 590.1,131.7 590.4,131.2 591.6,128.9 592.5,126.2 594.3,118.9 594.9,117.3 595.2,117 595.5,117 595.8,117.5 596.4,119.5 598.2,130.1 599.1,134.5 600,137.3 600.3,137.9 600.9,138.7 601.8,139.3 602.7,139.6 603.6,139.7 606.3,140 615.9,140.4 616.8,140.6 618.6,141 619.5,141 620.1,140.7 620.4,140.4 621,139.1 621.6,136.9 622.2,133.7 623.1,127.4 623.7,122.1 626.1,96.8 626.7,92.7 627,91.5 627.3,90.8 627.6,90.9 627.9,91.5 628.2,92.7 628.8,96.6 630.6,113.1 631.5,120.4 632.4,125.6 633.3,129 634.2,131.1 635.4,132.9 638.1,135.7 640.5,137.8 641.7,138.6 642.9,139.2 643.8,139.3 645.9,139.4 647.1,139.6 647.4,140.3 648.6,151.6 648.9,154 649.2,154.9 649.5,154.4 649.8,153.5 650.1,151.9 650.4,149.2 650.7,141.6 651.3,115.4 652.2,87.2 652.5,81.7 652.8,80.8 653.1,84.7 654.3,119.5 654.6,126 654.9,130.6 655.2,133.7 655.5,135.5 655.8,136.6 656.1,137.2 656.7,137.7 657.6,138.1 659.7,138.4 660.3,138.7 660.9,139.2 662.7,141 664.5,144 665.1,144.7 665.4,144.8 665.7,144.7 666,144.4 667.8,141.2 668.1,140.9 668.4,140.7 676.5,140.8" fill="none" stroke="#2f7ddf" stroke-width="1.15" stroke-linejoin="round"/>
<polyline points="477.3,128.7 483.6,129.2 484.5,129 485.7,128.4 486.3,128.2 486.6,128.4 486.9,128.7 488.4,130.8 489,131.2 489.9,131.3 492.3,131.4 492.9,131.3 493.8,131 496.8,129.6 497.7,129.2 500.1,128.8 502.8,128.6 513,128.6 513.6,128.9 514.2,129.4 515.7,131.3 517.2,135.7 517.5,136.3 517.8,136.5 518.1,136.3 518.4,135.8 519.9,131.7 521.4,129.1 522,128.3 522.6,127.8 524.4,126.9 526.5,126.3 534.9,124.4 536.4,124.3 537.6,124.8 538.8,123.9 540,123.1 540.3,123 541.5,123.8 542.7,123.3 544.2,123 545.4,122.2 546.6,122.2 548.1,123.6 549.3,123.6 550.5,123.6 552,122.2 553.2,121.5 554.4,122.2 554.7,122.2 555.3,122 555.9,121.5 557.1,119.7 558,117.5 559.8,111.6 560.4,110.1 560.7,109.7 561.3,109.3 561.9,109.3 562.2,109.3 562.8,109.7 563.7,110.6 564,111.1 566.4,117.3 567.3,120.5 567.6,122.4 568.2,128.1 569.1,131.9 570.9,137.2 571.5,138.5 572.1,139.2 573.3,140.2 574.2,140.5 574.5,140.4 575.7,139.5 576,139.4 576.3,139.4 576.6,139.7 577.5,141 577.8,141.3 578.1,141.4 578.4,141.1 578.7,140.8 579.3,139.8 579.9,139.2 580.8,139.2 582.3,137.7 583.8,136.8 584.1,136.7 585.6,137 587.1,135.6 588.6,134.6 588.9,134.4 590.7,131.8 591.6,130.2 592.5,127.9 594.3,121.8 594.9,120.4 595.2,120.1 595.5,120.2 595.8,120.6 596.4,122.3 598.2,131.5 599.1,135.3 600,137.6 600.3,138.2 600.9,138.9 601.8,139.4 603.3,139.8 606,140 615.9,140.5 616.8,140.7 618.6,141.2 619.5,141.3 620.1,141.2 620.4,141 621,140.1 621.6,138.4 622.2,136 623.1,131.6 623.7,128 626.1,111.1 626.7,108.2 627,107.3 627.3,106.8 627.6,106.7 627.9,107 628.5,108.7 629.1,111.5 631.2,123.2 632.1,127 633,129.6 633.9,131.3 635.1,132.8 638.7,136.4 640.8,138.1 642,138.9 642.9,139.2 643.8,139.4 646.2,139.5 647.1,139.7 647.4,140.3 648.6,151.8 648.9,154.2 649.2,155.1 649.5,154.6 649.8,153.8 650.1,152.5 650.4,150.2 650.7,143.2 651.3,119.1 651.9,102.4 652.2,95 652.5,90.2 652.8,89.3 653.1,92.5 654.3,119.6 654.6,123.9 654.9,126.5 655.2,127.6 655.5,127.7 655.8,127.6 656.1,127.5 656.4,127.9 657,130.2 657.9,134.6 658.5,136.6 659.1,137.6 660.9,138.9 662.7,140.4 664.5,142.8 665.1,143.3 665.4,143.3 666,143.1 667.8,141 668.4,140.7 676.5,140.8" fill="none" stroke="#3bb27a" stroke-width="1.15" stroke-linejoin="round"/>
<polyline points="477.3,130.2 482.4,130.4 483.3,130.4 483.9,130.2 484.5,129.8 484.8,129.4 486,127.5 486.3,127.3 486.6,127.3 486.9,127.7 488.4,130.9 489,131.5 489.9,131.8 491.1,131.8 492.9,131.6 494.1,131.3 497.7,130 501.6,129.4 507,129.3 513,129.5 513.6,129.8 514.2,130.4 515.7,132.3 517.2,136.3 517.5,136.8 517.8,137 518.1,136.8 518.4,136.4 519.9,132.7 521.4,130.2 522.3,129.2 522.6,129 523.5,128.8 526.5,128.3 534.9,127.6 537.6,126.9 538.8,127.9 539.1,127.9 540,127.2 540.3,127.1 541.5,128.4 542.7,128.1 544.2,128.5 545.4,128.5 546.6,127.7 547.8,127.8 548.1,127.9 549.3,129 550.5,128.2 550.8,128.3 551.7,128.8 552,128.9 553.2,128.1 554.4,128.2 555.3,128 555.9,127.4 557.1,125.1 558.3,123.8 558.6,123.3 559.5,121.4 561,117.2 562.8,113 563.1,112.5 563.4,112.1 563.7,112.1 564,112.3 564.6,113.2 566.1,116.2 567,118.6 567.6,121 568.2,125 568.5,126 570,129.7 570.3,131.2 571.2,137.2 571.5,138.4 572.1,139.6 572.7,140.5 573,140.6 573.6,140.5 574.2,140.2 575.4,139.3 576,139.1 576.3,139.2 576.6,139.6 577.5,141.2 577.8,141.5 578.1,141.6 578.4,141.4 579.3,140 579.9,139.4 580.8,139.2 582.3,138 584.1,138 585.6,136.8 588.9,134.4 590.1,133.7 591,132.8 591.9,131.5 592.5,130.3 594.3,125.8 594.9,124.8 595.2,124.7 595.5,124.7 595.8,125 596.4,126.4 598.2,133.4 599.1,136.3 600,138.1 600.9,139.1 601.8,139.5 603.6,139.9 612.9,140.3 616.2,140.6 617.1,141.1 619.2,143 619.8,143.3 620.4,143.3 620.7,143.1 621.3,142.1 622.2,139.7 623.7,135 625.5,128.3 626.4,125.4 627,124.1 627.3,123.6 627.6,123.4 627.9,123.3 628.2,123.4 628.5,123.6 629.1,124.4 631.5,128.9 632.1,129.9 633,131.1 634.2,132.3 639.6,137.2 641.1,138.4 642.6,139.1 643.5,139.3 645.9,139.5 647.1,139.7 647.4,140.4 648.6,151.9 648.9,154.4 649.2,155.3 649.8,154.6 650.1,153.8 650.4,152.5 650.7,146.9 651.3,127.8 652.2,113.5 652.5,110.4 652.8,109.4 653.1,110.2 653.7,114.2 654,115 654.3,114 654.6,110.7 654.9,105.5 655.8,87 656.1,84.3 656.4,85.1 656.7,89.2 657.9,118.6 658.5,129 659.1,134.3 659.4,135.7 659.7,136.6 660,137.2 660.6,138 663,140.4 664.2,141.9 664.8,142.4 665.4,142.7 666,142.5 667.8,140.9 668.4,140.6 676.5,140.7" fill="none" stroke="#d8a21e" stroke-width="1.15" stroke-linejoin="round"/>
<polyline points="477.3,136.3 484.5,135.3 487.8,134.6 489,134.4 489.6,134.5 489.9,134.7 491.4,136 492,136.3 492.3,136.3 493.5,136 496.5,134.5 497.4,134.1 498,134 499.5,134 503.4,134.4 510,134.8 513,135.2 513.9,135.7 515.7,137.2 517.2,139.5 517.5,139.8 517.8,139.9 518.1,139.8 518.4,139.6 519.9,137.6 521.4,136.1 522.3,135.5 525,134.8 528,134.4 534.9,134.3 536.4,134.7 537.6,134.9 540,134.2 540.3,134.2 541.5,135 542.7,134.9 543.9,135.8 544.2,135.9 545.4,135.2 546.6,135.4 548.1,136.1 549.3,136.3 550.5,136.1 550.8,136.2 553.2,137.1 554.4,136.9 555.9,135.8 557.1,135.5 558,134.9 558.9,134 559.8,132.6 561,129.7 561.6,128.7 562.2,127.5 563.7,122.7 565.2,116.9 566.4,113.5 567,112.4 567.3,112.1 567.6,112.2 567.9,112.5 568.2,113.1 568.5,114.1 569.1,118.1 570,125.6 571.2,137.2 571.5,138.7 571.8,139.6 572.4,140.9 572.7,141.3 573,141.3 573.3,141.2 574.5,140.2 575.4,140 576,140.2 576.3,140.2 576.6,140.4 577.8,141.7 578.1,141.8 578.4,141.7 578.7,141.3 579.6,140 579.9,139.7 584.1,138.7 585.6,138.6 587.1,138.9 588.9,138.2 590.1,138.5 592.2,138.6 594.6,138.4 595.5,138.5 596.4,138.9 599.1,140.4 600,140.7 601.2,140.9 616.2,141 616.5,141.2 617.1,142 618.9,145.9 619.5,147 620.1,147.7 620.4,147.8 620.7,147.6 621,147 622.8,141.4 624.3,139 626.1,136.5 627.9,134.5 629.4,133.3 630.3,132.8 630.9,132.6 631.5,132.6 632.4,132.6 633.6,133 635.1,133.9 639.9,137.7 641.7,138.9 643.2,139.4 645.9,139.6 647.1,139.9 647.4,140.6 648.6,152.2 648.9,154.7 649.2,155.7 649.8,155.3 650.1,154.9 650.4,154.1 650.7,149.5 651.3,133.4 652.2,125.2 652.5,123.4 652.8,122.6 653.1,122.6 653.4,123.1 653.7,123.3 654,122.4 654.3,120.1 654.6,116.1 655.8,93.2 656.1,90.7 656.4,91.3 656.7,94.9 657.9,121 658.5,130.2 659.1,134.9 659.4,136.1 659.7,136.9 660,137.4 660.6,138.2 662.7,140.2 664.5,142.3 665.1,142.7 665.4,142.8 666,142.6 667.8,140.9 668.4,140.7 676.5,140.7" fill="none" stroke="#875a5a" stroke-width="1.15" stroke-linejoin="round"/>
<text x="478.8" y="109.9" font-size="8.8" fill="#1a1a1a">2226</text>
<text x="545.9" y="88.1" font-size="8.8" fill="#2424f0">1660</text>
<text x="554.8" y="67.7" font-size="8.8" fill="#1a1a1a">1620</text>
<text x="585.1" y="83" font-size="8.8" fill="#2424f0">1412</text>
<text x="621" y="27.6" font-size="8.8" fill="#f42a32">1172</text>
<text x="629.5" y="45.1" font-size="8.8" fill="#f42a32">1139</text>
<text x="648.8" y="35.2" font-size="8.8" fill="#f42a32">980</text>
<text x="655.4" y="55" font-size="8.8" fill="#2424f0">958</text>
<path d="M246 209.2 H444.2 V362.1 H246 Z" fill="none" stroke="#3a3a3a" stroke-width="1.2"/>
<line x1="259.58" y1="362.1" x2="259.58" y2="364.7" stroke="#3a3a3a" stroke-width="1.0"/>
<text x="259.58" y="374.6" font-size="8.8" fill="#1a1a1a" text-anchor="middle">2200</text>
<line x1="285.94" y1="362.1" x2="285.94" y2="364.7" stroke="#3a3a3a" stroke-width="1.0"/>
<text x="285.94" y="374.6" font-size="8.8" fill="#1a1a1a" text-anchor="middle">2000</text>
<line x1="312.3" y1="362.1" x2="312.3" y2="364.7" stroke="#3a3a3a" stroke-width="1.0"/>
<text x="312.3" y="374.6" font-size="8.8" fill="#1a1a1a" text-anchor="middle">1800</text>
<line x1="338.66" y1="362.1" x2="338.66" y2="364.7" stroke="#3a3a3a" stroke-width="1.0"/>
<text x="338.66" y="374.6" font-size="8.8" fill="#1a1a1a" text-anchor="middle">1600</text>
<line x1="365.02" y1="362.1" x2="365.02" y2="364.7" stroke="#3a3a3a" stroke-width="1.0"/>
<text x="365.02" y="374.6" font-size="8.8" fill="#1a1a1a" text-anchor="middle">1400</text>
<line x1="391.38" y1="362.1" x2="391.38" y2="364.7" stroke="#3a3a3a" stroke-width="1.0"/>
<text x="391.38" y="374.6" font-size="8.8" fill="#1a1a1a" text-anchor="middle">1200</text>
<line x1="417.74" y1="362.1" x2="417.74" y2="364.7" stroke="#3a3a3a" stroke-width="1.0"/>
<text x="417.74" y="374.6" font-size="8.8" fill="#1a1a1a" text-anchor="middle">1000</text>
<line x1="444.1" y1="362.1" x2="444.1" y2="364.7" stroke="#3a3a3a" stroke-width="1.0"/>
<text x="444.1" y="374.6" font-size="8.8" fill="#1a1a1a" text-anchor="middle">800</text>
<text x="345.4" y="390.9" font-size="10.3" fill="#1a1a1a" text-anchor="middle">Wavenumber (cm<tspan font-size="7" dy="-4">-1</tspan><tspan dy="4">)</tspan></text>
<text transform="translate(239.2 285.8) rotate(-90)" font-size="10.3" fill="#1a1a1a" text-anchor="middle">Kubelka-Munk (a.u.)</text>
<text x="232.5" y="217.2" font-size="17" fill="#000" font-weight="bold">e</text>
<line x1="440.5" y1="213.4" x2="440.5" y2="228.7" stroke="#333" stroke-width="1.1"/>
<text x="438.8" y="224.3" font-size="9.6" fill="#1a1a1a" text-anchor="end">0.005</text>
<line x1="252.3" y1="215.9" x2="271.3" y2="215.9" stroke="#6a6a6a" stroke-width="1.0"/>
<text x="274.5" y="218.9" font-size="8.9" fill="#555555">0 min</text>
<line x1="252.3" y1="226.72" x2="271.3" y2="226.72" stroke="#ee3b45" stroke-width="1.0"/>
<text x="274.5" y="229.72" font-size="8.9" fill="#ee3b45">1 min</text>
<line x1="252.3" y1="237.54" x2="271.3" y2="237.54" stroke="#2f7ddf" stroke-width="1.0"/>
<text x="274.5" y="240.54" font-size="8.9" fill="#2f7ddf">2 min</text>
<line x1="252.3" y1="248.36" x2="271.3" y2="248.36" stroke="#3bb27a" stroke-width="1.0"/>
<text x="274.5" y="251.36" font-size="8.9" fill="#3bb27a">3 min</text>
<line x1="252.3" y1="259.18" x2="271.3" y2="259.18" stroke="#d8a21e" stroke-width="1.0"/>
<text x="274.5" y="262.18" font-size="8.9" fill="#d8a21e">5 min</text>
<line x1="252.3" y1="270" x2="271.3" y2="270" stroke="#875a5a" stroke-width="1.0"/>
<text x="274.5" y="273" font-size="8.9" fill="#875a5a">10 min</text>
<line x1="255.7" y1="290.2" x2="255.7" y2="304" stroke="#4a4a4a" stroke-width="0.8" stroke-dasharray="1.6 1.2"/>
<line x1="330.4" y1="319.1" x2="330.4" y2="326.8" stroke="#2424f0" stroke-width="0.8" stroke-dasharray="1.6 1.2"/>
<line x1="363.4" y1="295.6" x2="363.4" y2="328" stroke="#2424f0" stroke-width="0.8" stroke-dasharray="1.6 1.2"/>
<line x1="393.5" y1="259.9" x2="393.5" y2="284" stroke="#f55a5a" stroke-width="0.8" stroke-dasharray="1.6 1.2"/>
<line x1="420.2" y1="272.4" x2="420.2" y2="305" stroke="#f55a5a" stroke-width="0.8" stroke-dasharray="1.6 1.2"/>
<line x1="425.5" y1="288.6" x2="425.5" y2="325.4" stroke="#2424f0" stroke-width="0.8" stroke-dasharray="1.6 1.2"/>
<polyline points="246,330.3 248.4,329.7 249.3,329.3 250.2,328.7 251.1,327.8 251.7,326.8 252,326 252.6,324 253.2,320.9 253.8,316.8 255,307 255.3,305.3 255.6,304.4 255.9,304.6 256.2,305.8 258,319.6 258.6,323 259.2,325.3 259.8,326.8 260.7,328.1 261.3,328.6 261.9,329 263.4,329.5 265.8,329.9 269.4,330.1 274.8,330.2 281.7,330.2 290.4,329.9 294.6,329.1 296.1,328.9 297,329.1 299.4,330 300,330.1 302.4,330 316.2,329.1 324.9,328.8 326.7,328.4 329.1,327.4 330,327.2 330.9,327.4 333.6,329.6 334.5,330.1 335.1,330.2 335.7,330.1 337.2,329.1 337.8,328.9 339.3,329 340.8,329.5 342.6,330.4 346.2,332.3 349.2,334.8 350.1,335.5 351,335.8 351.6,335.9 352.2,335.7 352.8,335.3 354.9,333.1 355.8,332.4 356.4,332.1 357.6,331.9 358.8,331.6 360,330.9 362.4,329.1 363,328.9 363.6,328.9 364.5,329.2 366.6,330.7 367.8,331.4 368.7,331.8 370.2,332.1 371.1,332.4 372.3,333.1 375.6,335.2 376.8,335.7 377.7,335.7 378,335.4 379.2,332.5 379.5,332.1 381.6,331.4 385.2,330.6 386.1,330.2 386.7,329.7 387.3,329 387.9,327.7 388.2,326.8 389.1,322.6 390,315.8 392.1,292.8 392.7,287.5 393,285.6 393.3,284.5 393.6,284.1 393.9,284.5 394.2,285.6 394.5,287.4 395.1,292.8 397.2,315.8 398.1,322.5 399,326.7 399.3,327.6 399.9,328.8 400.5,329.6 401.4,330.1 402.6,330.3 407.7,330.6 410.1,331 411.9,331.5 413.4,332 414.3,332.4 414.6,332.8 415.2,335.4 415.8,339.6 416.7,361.4 417,361.9 417.6,361.6 417.9,361.4 418.2,361 418.5,358.3 419.1,338 420,312.5 420.3,306.2 420.6,303.8 420.9,305.2 422.1,321.6 422.4,323.9 422.7,325.3 423,326 423.3,326.5 426.9,330.3 427.8,331 428.4,331.3 429.9,331.4 433.2,331.3 444,330.8" fill="none" stroke="#6a6a6a" stroke-width="1.15" stroke-linejoin="round"/>
<polyline points="246,330.3 248.4,329.7 249.3,329.3 250.2,328.7 251.1,327.8 251.7,326.8 252,326 252.6,324 253.2,320.9 253.8,316.8 255,307 255.3,305.3 255.6,304.4 255.9,304.6 256.2,305.8 258,319.6 258.6,323 259.2,325.3 259.8,326.8 260.7,328.1 261.3,328.6 261.9,329 263.4,329.5 265.8,329.9 269.4,330.1 274.8,330.2 281.7,330.2 290.4,329.9 294.6,329.1 296.1,328.9 297,329.1 298.8,329.8 299.7,330 303,330 315.9,329.1 323.1,328.9 324.9,328.7 325.8,328.6 326.7,328.3 329.1,327 330,326.7 330.3,326.7 330.9,327 333.6,329.4 334.5,330 335.1,330.2 335.7,330.1 337.2,329.1 337.8,328.9 339.3,329 341.1,329.6 342.6,330.3 346.2,332.3 349.2,334.8 350.1,335.5 351,335.8 351.6,335.9 352.2,335.7 352.8,335.3 354.9,333.1 355.8,332.4 356.4,332.1 357.9,331.8 358.8,331.4 360,330.7 362.4,328.7 363,328.4 363.6,328.4 364.5,328.7 366.6,330.5 367.8,331.3 368.7,331.7 370.2,332.1 371.4,332.6 374.7,334.7 375.9,335.4 376.8,335.7 377.7,335.8 378,335.4 379.2,332.5 379.5,332.2 381.3,331.5 385.2,330.6 386.1,330.3 386.7,329.9 387.3,329.2 387.9,328 388.2,327.2 389.1,323.4 390,317.3 392.1,296.5 392.7,291.6 393,290 393.3,288.9 393.6,288.6 393.9,288.9 394.2,290 394.5,291.6 395.1,296.4 397.2,317.2 398.1,323.3 399,327.1 399.3,327.9 399.9,329 400.5,329.7 401.4,330.2 402.6,330.4 407.4,330.6 410.1,331 411.9,331.5 413.4,332 414.3,332.4 414.6,332.9 415.2,335.4 415.8,339.6 416.7,361.4 417,361.9 417.6,361.7 417.9,361.5 418.2,361.1 418.5,358.4 419.1,338.2 420,313.3 420.3,307.2 420.6,304.8 420.9,306.1 422.1,321.9 422.4,324.1 422.7,325.3 423,326.1 423.3,326.5 424.8,328 426.9,330.3 427.8,331 428.4,331.3 429.9,331.4 433.2,331.3 444,330.8" fill="none" stroke="#ee3b45" stroke-width="1.15" stroke-linejoin="round"/>
<polyline points="246,330.3 248.4,329.7 249.3,329.3 250.2,328.7 251.1,327.8 251.7,326.8 252,326 252.6,324 253.2,320.9 253.8,316.8 255,307 255.3,305.3 255.6,304.4 255.9,304.6 256.2,305.8 258,319.6 258.6,323 259.2,325.3 259.8,326.8 260.7,328.1 261.3,328.6 261.9,329 263.4,329.5 265.8,329.9 269.4,330.1 274.8,330.2 281.7,330.2 290.4,329.9 294.6,329.1 296.1,328.9 297,329.1 298.8,329.8 299.7,330 303.6,330 315.9,329.1 324.6,328.7 325.5,328.6 326.4,328.3 327.3,327.8 329.4,326.4 330,326.2 330.3,326.2 330.6,326.3 331.2,326.7 333.3,329 334.5,329.9 335.1,330.1 335.7,330 337.2,329.1 337.8,328.9 339,329 340.5,329.4 342.3,330.2 345.9,332.1 346.8,332.8 349.5,335.1 350.4,335.6 351,335.8 351.6,335.9 352.2,335.7 353.1,335 354.9,333.1 355.8,332.4 356.4,332.1 357.9,331.8 358.8,331.5 360,330.7 362.1,328.9 362.7,328.5 363.3,328.4 363.9,328.4 364.5,328.7 366.6,330.5 367.8,331.3 368.7,331.7 370.2,332.1 371.4,332.6 374.7,334.7 375.9,335.4 376.8,335.7 377.7,335.8 378,335.4 379.2,332.5 379.5,332.2 381.6,331.5 385.5,330.7 386.4,330.4 387.3,329.8 387.9,329 388.2,328.4 389.1,325.8 390,321.6 392.1,307.3 392.7,304 393,302.8 393.3,302.1 393.6,301.9 393.9,302.1 394.2,302.8 394.8,305.5 396.6,317.8 397.5,323.1 398.4,326.8 399.3,328.9 400.2,329.9 401.1,330.3 402.3,330.5 407.1,330.7 409.8,331 411.6,331.4 413.1,332 414.3,332.5 414.6,332.9 415.2,335.5 415.8,339.7 416.7,361.6 417,362.1 417.6,361.9 418.2,361.4 418.5,358.9 419.1,339.7 419.7,324.7 420.3,312.8 420.6,310.8 420.9,311.7 422.1,323.3 422.4,324.9 422.7,325.9 423.3,326.8 424.5,327.8 427.2,330.6 428.1,331.2 428.7,331.4 429.3,331.4 434.1,331.3 444,330.8" fill="none" stroke="#2f7ddf" stroke-width="1.15" stroke-linejoin="round"/>
<polyline points="246,330.3 248.4,329.7 249.3,329.3 250.2,328.7 251.1,327.8 251.7,326.8 252,326 252.6,324 253.2,320.9 253.8,316.8 255,307 255.3,305.3 255.6,304.4 255.9,304.6 256.2,305.8 258,319.6 258.6,323 259.2,325.3 259.8,326.8 260.7,328.1 261.6,328.8 262.8,329.3 264.9,329.8 268.2,330.1 273,330.2 279.6,330.2 290.4,329.9 294.6,329.1 296.1,328.9 297,329.1 298.8,329.8 299.7,330 303.3,330 315.9,329.1 324.6,328.7 325.5,328.6 326.4,328.3 327.3,327.8 329.4,326.4 330,326.2 330.3,326.2 330.6,326.3 331.2,326.7 333.3,329 334.5,329.9 335.1,330.1 335.7,330 337.2,329.1 337.8,328.9 339,329 340.5,329.4 342.3,330.2 345.9,332.1 346.8,332.8 349.8,335.3 350.7,335.7 351.3,335.9 351.9,335.8 352.8,335.3 354.9,333.1 355.8,332.3 356.4,332.1 357.9,331.8 358.8,331.3 360,330.5 362.1,328.5 362.7,328.1 363.3,327.9 363.9,328 364.5,328.3 366.9,330.6 368.1,331.4 369,331.8 370.2,332.1 371.1,332.4 372.3,333.1 375.6,335.3 376.5,335.7 377.4,335.9 377.7,335.8 378,335.5 378.9,333.2 379.2,332.6 379.5,332.2 381.9,331.5 386.1,330.7 387,330.4 387.6,329.9 388.2,329.2 388.8,328 389.4,326.4 390.3,322.9 392.4,312.5 393,310.6 393.3,310 393.6,309.9 393.9,310 394.2,310.6 394.8,312.5 396.6,321.4 397.5,325.3 398.4,327.9 399.3,329.5 400.2,330.2 401.4,330.6 407.1,330.7 408.9,330.9 410.4,331.2 411.9,331.6 413.4,332.1 414.3,332.6 414.6,333 415.2,335.5 415.8,339.8 416.7,361.7 417,362.2 417.6,362.1 418.2,361.7 418.5,359.4 419.4,333.9 420,322.1 420.3,317.9 420.6,316.3 420.9,316.8 422.1,324.7 422.4,325.7 422.7,326.4 423,326.8 424.5,327.9 426.9,330.4 427.8,331.1 428.7,331.4 431.4,331.4 444,330.8" fill="none" stroke="#3bb27a" stroke-width="1.15" stroke-linejoin="round"/>
<polyline points="246,330.3 248.4,329.7 249.3,329.3 250.2,328.7 251.1,327.8 251.7,326.8 252,326 252.6,324 253.2,320.9 253.8,316.8 255,307 255.3,305.3 255.6,304.4 255.9,304.6 256.2,305.8 258,319.6 258.6,323 258.9,324.3 259.5,326.2 259.8,326.8 260.4,327.8 261,328.4 261.6,328.8 262.5,329.2 263.4,329.5 266.4,329.9 270,330.1 274.8,330.2 287.4,330 290.7,329.9 294.6,329.1 296.1,329 297,329.1 298.8,329.8 299.7,330 303.3,330 315.9,329.1 324.9,328.8 326.7,328.4 329.1,327.4 330,327.2 330.9,327.5 333.6,329.6 334.5,330.1 335.1,330.3 335.7,330.1 337.2,329.2 337.8,328.9 339.3,329.1 340.8,329.5 342.6,330.4 346.2,332.3 349.2,334.9 350.1,335.5 351,335.9 351.6,335.9 352.2,335.7 352.8,335.3 354.9,333.1 355.8,332.4 356.4,332.2 357.6,332 358.8,331.6 360,330.9 362.4,329.2 363,328.9 363.6,328.9 364.5,329.2 366.6,330.8 367.8,331.5 368.7,331.8 370.2,332.2 371.1,332.5 372.3,333.2 375.6,335.3 376.8,335.8 377.7,335.9 378,335.5 379.2,332.6 379.5,332.3 382.2,331.5 386.7,330.7 387.6,330.3 388.5,329.5 389.4,328 390,326.5 392.4,318.7 393,317.4 393.3,317.1 393.6,317 393.9,317.1 394.2,317.4 394.8,318.7 396.6,324.7 397.5,327.2 398.4,329 399.3,330 400.2,330.5 401.1,330.7 406.8,330.7 408.6,330.9 410.1,331.1 411.9,331.6 413.4,332.2 414.3,332.6 414.6,333.1 415.2,335.6 415.8,339.9 416.7,361.8 417,362.3 418.2,362.1 418.5,359.9 419.1,342.3 419.4,336 420,326.4 420.3,323.1 420.6,321.9 420.9,322 421.8,325.1 422.4,326.5 422.7,326.9 423.9,327.6 424.5,328 426.9,330.4 428.1,331.3 428.7,331.4 432.3,331.4 444,330.8" fill="none" stroke="#d8a21e" stroke-width="1.15" stroke-linejoin="round"/>
<polyline points="246,330.3 248.4,329.7 249.3,329.3 250.2,328.7 251.1,327.8 251.7,326.8 252,326 252.6,324 253.2,320.9 253.8,316.8 255,307 255.3,305.3 255.6,304.4 255.9,304.6 256.2,305.8 258,319.6 258.6,323 258.9,324.3 259.5,326.2 259.8,326.8 260.4,327.8 261.3,328.6 262.8,329.3 264.6,329.7 267.3,330 271.5,330.2 277.5,330.2 284.4,330.1 290.4,329.9 294.6,329.1 296.1,329 297,329.1 299.4,330 301.5,330 305.7,329.8 316.5,329.1 324.9,328.9 329.1,328.2 330,328.2 330.6,328.3 331.2,328.6 333.6,330 334.5,330.3 335.1,330.4 335.7,330.2 337.2,329.2 337.8,328.9 339,329 340.5,329.4 342.3,330.2 346.2,332.3 349.2,334.9 350.1,335.5 351,335.9 351.6,335.9 352.2,335.7 352.8,335.3 354.9,333.1 355.8,332.4 356.4,332.2 357.6,332 358.8,331.7 360,331.1 362.4,329.6 363,329.4 363.6,329.4 364.5,329.7 366.6,331 367.8,331.6 368.7,331.9 370.2,332.2 371.1,332.5 372.3,333.2 375.6,335.3 376.5,335.7 377.4,335.9 377.7,335.9 378,335.5 378.9,333.3 379.2,332.6 379.5,332.3 381,331.8 382.5,331.5 387.3,330.9 389.1,330.5 390.9,329.7 393.9,327.7 394.8,327.5 395.4,327.5 396.6,328 399.3,329.7 400.8,330.3 402.3,330.6 407.1,330.7 409.8,331.1 411.6,331.5 413.1,332.1 414.3,332.6 414.6,333.1 415.2,335.6 415.8,339.9 416.7,361.9 417,362.4 418.2,362.3 418.5,360.3 419.1,343.3 419.4,337.5 420,329.4 420.3,326.8 420.6,325.9 420.9,325.7 421.2,325.9 422.1,326.9 422.4,327.1 423.6,327.5 424.2,327.9 425.1,328.6 427.2,330.7 427.8,331.2 428.4,331.4 429.6,331.5 433.2,331.4 444,330.8" fill="none" stroke="#875a5a" stroke-width="1.15" stroke-linejoin="round"/>
<text x="250.8" y="287.9" font-size="8.8" fill="#1a1a1a">2226</text>
<text x="317.8" y="315.8" font-size="8.8" fill="#2424f0">1660</text>
<text x="355.7" y="291.2" font-size="8.8" fill="#2424f0">1412</text>
<text x="384.3" y="256.8" font-size="8.8" fill="#f42a32">1163</text>
<text x="416.6" y="269.3" font-size="8.8" fill="#f42a32">980</text>
<text x="423.4" y="286.7" font-size="8.8" fill="#2424f0">958</text>
<path d="M478.4 209.7 H678 V362.5 H478.4 Z" fill="none" stroke="#3a3a3a" stroke-width="1.2"/>
<line x1="491.94" y1="362.5" x2="491.94" y2="365.1" stroke="#3a3a3a" stroke-width="1.0"/>
<text x="491.94" y="374.6" font-size="8.8" fill="#1a1a1a" text-anchor="middle">2200</text>
<line x1="518.5" y1="362.5" x2="518.5" y2="365.1" stroke="#3a3a3a" stroke-width="1.0"/>
<text x="518.5" y="374.6" font-size="8.8" fill="#1a1a1a" text-anchor="middle">2000</text>
<line x1="545.07" y1="362.5" x2="545.07" y2="365.1" stroke="#3a3a3a" stroke-width="1.0"/>
<text x="545.07" y="374.6" font-size="8.8" fill="#1a1a1a" text-anchor="middle">1800</text>
<line x1="571.64" y1="362.5" x2="571.64" y2="365.1" stroke="#3a3a3a" stroke-width="1.0"/>
<text x="571.64" y="374.6" font-size="8.8" fill="#1a1a1a" text-anchor="middle">1600</text>
<line x1="598.2" y1="362.5" x2="598.2" y2="365.1" stroke="#3a3a3a" stroke-width="1.0"/>
<text x="598.2" y="374.6" font-size="8.8" fill="#1a1a1a" text-anchor="middle">1400</text>
<line x1="624.77" y1="362.5" x2="624.77" y2="365.1" stroke="#3a3a3a" stroke-width="1.0"/>
<text x="624.77" y="374.6" font-size="8.8" fill="#1a1a1a" text-anchor="middle">1200</text>
<line x1="651.33" y1="362.5" x2="651.33" y2="365.1" stroke="#3a3a3a" stroke-width="1.0"/>
<text x="651.33" y="374.6" font-size="8.8" fill="#1a1a1a" text-anchor="middle">1000</text>
<line x1="677.9" y1="362.5" x2="677.9" y2="365.1" stroke="#3a3a3a" stroke-width="1.0"/>
<text x="677.9" y="374.6" font-size="8.8" fill="#1a1a1a" text-anchor="middle">800</text>
<text x="578.2" y="390.9" font-size="10.3" fill="#1a1a1a" text-anchor="middle">Wavenumber (cm<tspan font-size="7" dy="-4">-1</tspan><tspan dy="4">)</tspan></text>
<text transform="translate(471.6 285.8) rotate(-90)" font-size="10.3" fill="#1a1a1a" text-anchor="middle">Kubelka-Munk (a.u.)</text>
<text x="462.6" y="216.6" font-size="17" fill="#000" font-weight="bold">f</text>
<line x1="674.2" y1="213.8" x2="674.2" y2="229.3" stroke="#333" stroke-width="1.1"/>
<text x="672.2" y="224.8" font-size="9.3" fill="#1a1a1a" text-anchor="end">0.005</text>
<line x1="481" y1="215.3" x2="501.6" y2="215.3" stroke="#9a9a9a" stroke-width="1.6"/>
<text x="503.6" y="218.3" font-size="8.9" fill="#555555">0 min</text>
<line x1="481" y1="225.98" x2="501.6" y2="225.98" stroke="#ee3b45" stroke-width="1.0"/>
<text x="503.6" y="228.98" font-size="8.9" fill="#ee3b45">1 min</text>
<line x1="481" y1="236.66" x2="501.6" y2="236.66" stroke="#2f7ddf" stroke-width="1.0"/>
<text x="503.6" y="239.66" font-size="8.9" fill="#2f7ddf">2 min</text>
<line x1="481" y1="247.34" x2="501.6" y2="247.34" stroke="#3bb27a" stroke-width="1.0"/>
<text x="503.6" y="250.34" font-size="8.9" fill="#3bb27a">3 min</text>
<line x1="481" y1="258.02" x2="501.6" y2="258.02" stroke="#d8a21e" stroke-width="1.0"/>
<text x="503.6" y="261.02" font-size="8.9" fill="#d8a21e">5 min</text>
<line x1="481" y1="268.7" x2="501.6" y2="268.7" stroke="#875a5a" stroke-width="1.0"/>
<text x="503.6" y="271.7" font-size="8.9" fill="#875a5a">10 min</text>
<line x1="488.3" y1="286.4" x2="488.3" y2="294" stroke="#4a4a4a" stroke-width="0.8" stroke-dasharray="1.6 1.2"/>
<line x1="528.7" y1="309.7" x2="528.7" y2="326.7" stroke="#4a4a4a" stroke-width="0.8" stroke-dasharray="1.6 1.2"/>
<line x1="534.4" y1="294.8" x2="534.4" y2="310" stroke="#4a4a4a" stroke-width="0.8" stroke-dasharray="1.6 1.2"/>
<line x1="562.3" y1="311.1" x2="562.3" y2="325.5" stroke="#2424f0" stroke-width="0.8" stroke-dasharray="1.6 1.2"/>
<line x1="569.5" y1="295.1" x2="569.5" y2="322" stroke="#4a4a4a" stroke-width="0.8" stroke-dasharray="1.6 1.2"/>
<line x1="585.2" y1="283.6" x2="585.2" y2="336" stroke="#4a4a4a" stroke-width="0.8" stroke-dasharray="1.6 1.2"/>
<line x1="596.4" y1="270.9" x2="596.4" y2="324" stroke="#2424f0" stroke-width="0.8" stroke-dasharray="1.6 1.2"/>
<line x1="610" y1="300.4" x2="610" y2="338" stroke="#d4a326" stroke-width="0.8" stroke-dasharray="1.6 1.2"/>
<line x1="626.4" y1="241" x2="626.4" y2="265" stroke="#f55a5a" stroke-width="0.8" stroke-dasharray="1.6 1.2"/>
<line x1="653.8" y1="268.4" x2="653.8" y2="294" stroke="#f55a5a" stroke-width="0.8" stroke-dasharray="1.6 1.2"/>
<line x1="658.4" y1="288" x2="658.4" y2="317.8" stroke="#2424f0" stroke-width="0.8" stroke-dasharray="1.6 1.2"/>
<polyline points="478.5,330.4 480.9,329.8 481.8,329.4 482.7,328.7 483.3,328.1 483.9,327.1 484.5,325.6 484.8,324.5 485.4,321.3 486,316.6 487.8,295.9 488.1,294.1 488.4,293.8 488.7,295.1 489,297.8 490.5,315.7 491.1,320.7 491.7,324 492.3,326.2 492.6,326.9 493.2,328 493.8,328.6 494.4,329.1 495.9,329.9 498,330.4 500.7,330.7 504.6,331 510,331.1 520.8,331 526.5,330.3 527.1,330.1 528.6,329.4 529.2,329.5 530.4,330 531.3,330.1 532.2,329.9 534,329.3 534.6,329.2 537.3,329.6 539.7,329.7 547.8,329.7 549.3,329.4 550.5,330.3 550.8,330.3 551.7,329.9 552,329.4 552.6,327.2 552.9,326.4 553.2,326.1 554.4,327.2 554.7,327.2 555.9,326.8 557.1,327.1 558.3,326.5 559.8,325.9 561,326.3 562.2,324.9 562.5,324.9 563.1,325.6 564.3,327.9 564.9,328.8 565.8,329.1 566.7,329.1 567.6,328.8 568.8,328.1 569.4,328 569.7,328.1 570.3,328.4 571.8,329.7 573.6,330.9 575.4,332.3 576.3,332.8 577.2,332.7 579.3,331.7 579.9,331.7 580.2,331.8 580.8,332.2 581.4,332.7 583.8,335.6 584.7,336.2 585.3,336.3 585.9,336.1 586.5,335.5 588.6,332.7 589.5,331.7 590.1,331.3 591.3,330.8 592.2,330 593.1,328.8 595.2,325 595.8,324.4 596.1,324.2 596.4,324.3 597,324.7 597.6,325.7 599.1,328.5 599.7,329.4 600.3,330.1 600.9,330.6 602.4,331.5 603.3,332.2 604.5,333.4 606.6,335.8 607.8,336.9 608.4,337.3 609,337.6 609.6,337.7 609.9,337.6 610.5,336.7 612,333.4 612.6,332.6 614.1,331.9 617.4,330.7 618,330.3 618.6,329.8 619.2,329 619.5,328.5 620.1,326.8 620.4,325.7 621.3,320.6 622.2,312.3 622.8,304.9 624.6,278.1 625.2,270.6 625.8,265.8 626.1,264.7 626.4,264.5 626.7,265.3 627,266.9 627.6,272.7 629.7,303.1 630.6,313.9 631.2,319.2 632.1,324.5 632.4,325.6 633,327.3 633.6,328.3 634.5,329.1 635.4,329.5 637.2,329.9 640.2,331.1 641.7,331.4 645.6,331.9 646.8,332.2 647.7,332.5 648,333.3 648.3,334.8 648.9,339.4 649.8,361.4 650.1,361.9 650.7,361.6 651,361.3 651.3,357.8 653.4,300.1 653.7,294 654,291.9 654.3,294 655.2,312.1 655.8,321.4 656.1,324 656.4,325.7 656.7,326.7 657,327.3 657.9,328.4 660.9,330.8 662.7,332.8 663.3,333.3 663.6,333.4 664.2,333.4 665.1,333.1 666,332.5 668.4,330.7 669.3,330.2 669.9,330 671.1,330.1 672.6,330.3 677.7,331.7" fill="none" stroke="#6a6a6a" stroke-width="1.15" stroke-linejoin="round"/>
<polyline points="478.5,330.4 480.9,329.8 481.8,329.4 482.7,328.7 483.3,328.1 483.9,327.1 484.5,325.6 484.8,324.5 485.4,321.3 486,316.6 487.8,295.9 488.1,294.1 488.4,293.8 488.7,295.1 489,297.8 490.5,315.7 491.1,320.7 491.7,324 492.3,326.2 492.6,326.9 493.2,328 493.8,328.6 494.4,329.1 495.9,329.9 497.1,330.2 498.9,330.5 503.4,330.9 510.6,331.1 520.2,331 526.5,330.2 527.1,330.1 528.6,329.4 529.2,329.4 530.4,329.9 531.3,329.9 532.2,329.6 533.7,328.5 534.3,328.3 534.6,328.3 535.2,328.5 537,329.3 538.2,329.6 540.6,329.7 547.8,329.7 549.3,329.5 551.7,330 552,329.6 552.9,326.5 553.2,326.2 554.4,327.2 554.7,327.2 555.9,326.8 557.1,326.7 559.5,325.9 559.8,325.9 561,326.4 562.2,326.3 562.8,326 563.4,326.2 563.7,326.5 564.3,327.6 564.9,328.3 565.2,328.9 566.1,329.1 566.7,329.1 567.6,328.8 568.8,328.1 569.4,328 569.7,328.1 570.3,328.4 572.1,329.9 573.6,330.9 575.1,332.1 576,332.7 576.6,332.8 577.2,332.7 579.3,331.7 579.9,331.7 580.5,331.9 581.4,332.6 583.8,335.2 584.7,335.7 585.3,335.8 585.9,335.6 586.5,335.1 588.6,332.6 589.5,331.7 590.1,331.3 591.3,330.8 592.2,330 593.1,328.8 595.2,324.9 595.8,324.3 596.1,324.1 596.4,324.2 597,324.7 597.6,325.6 599.1,328.4 599.7,329.4 600.3,330.1 600.9,330.6 602.4,331.5 603.3,332.2 604.5,333.4 606.6,335.8 607.8,336.9 608.4,337.3 609,337.6 609.6,337.7 609.9,337.6 610.5,336.7 611.7,334 612.3,332.9 612.6,332.6 613.2,332.3 617.1,330.8 618.3,330.2 618.9,329.6 619.5,328.6 620.1,327 620.4,325.9 621.3,321.1 622.2,313.2 622.8,306.1 624.6,280.5 625.2,273.3 625.8,268.7 626.1,267.7 626.4,267.5 626.7,268.2 627,269.8 627.6,275.3 629.7,304.3 630.6,314.6 631.2,319.7 632.1,324.7 632.4,325.9 633,327.5 633.6,328.4 634.5,329.2 635.4,329.5 637.2,329.9 640.2,331.1 641.7,331.4 645.6,331.9 646.8,332.2 647.7,332.6 648,333.4 648.3,334.9 648.9,339.4 649.8,361.5 650.1,361.9 650.7,361.6 651,361.3 651.3,357.9 653.4,300.9 653.7,294.9 654,292.9 654.3,294.9 655.2,312.6 655.8,321.6 656.1,324.2 656.4,325.8 656.7,326.8 657,327.4 657.9,328.5 660.9,330.8 662.7,332.8 663.3,333.3 663.6,333.4 664.2,333.4 665.1,333.1 666,332.5 668.4,330.7 669.3,330.2 669.9,330 671.1,330.1 672.6,330.3 677.7,331.7" fill="none" stroke="#ee3b45" stroke-width="1.15" stroke-linejoin="round"/>
<polyline points="478.5,330.4 480.9,329.8 481.8,329.4 482.7,328.7 483.3,328.1 483.9,327.1 484.5,325.6 484.8,324.5 485.4,321.3 486,316.6 487.8,295.9 488.1,294.1 488.4,293.8 488.7,295.1 489,297.8 490.5,315.7 491.1,320.7 491.7,324 492.3,326.2 492.6,326.9 493.2,328 493.8,328.6 494.4,329.1 495.9,329.9 497.1,330.2 498.9,330.5 503.7,330.9 512.1,331.1 521.1,330.9 526.5,330.2 527.1,330 528.6,329.1 529.2,329.2 530.4,329.6 531,329.6 531.6,329.3 531.9,329 533.7,326.7 534.3,326.3 534.6,326.3 534.9,326.5 537,328.8 537.6,329.2 538.2,329.4 539.1,329.6 540.6,329.7 547.8,329.7 548.1,329.8 549.3,330.3 550.5,329.5 551.7,329.2 552,328.8 552.6,326.9 552.9,326.3 553.2,326.1 557.1,327.3 558.3,325.7 558.6,325.6 559.8,325.5 561,326 562.8,325.6 563.4,326 563.7,326.4 564.3,327.4 564.9,328.1 565.2,328.9 566.1,329 567,328.9 567.6,328.6 568.8,327.7 569.4,327.5 570,327.7 572.1,329.8 573.6,330.9 575.4,332.3 576,332.7 576.6,332.8 576.9,332.8 579.3,331.7 579.9,331.7 580.2,331.8 580.8,332.2 581.4,332.8 583.8,335.9 584.7,336.6 585.3,336.7 585.9,336.5 586.5,335.9 588.6,332.8 589.5,331.8 590.1,331.3 591,331 591.6,330.7 592.5,329.9 593.4,328.6 595.2,325.5 595.8,324.9 596.1,324.8 596.4,324.8 597,325.2 597.6,326.1 599.1,328.7 599.7,329.6 600.3,330.3 600.9,330.7 602.4,331.5 603.3,332.2 604.5,333.4 606.6,335.8 607.8,337 608.7,337.6 609.6,337.8 609.9,337.7 610.5,336.8 612,333.5 612.6,332.7 614.4,331.9 617.7,330.9 618.6,330.4 619.5,329.5 620.4,327.8 621.3,324.6 622.2,319.5 622.8,314.9 624.6,298.3 625.2,293.7 625.8,290.7 626.1,290 626.4,289.9 626.7,290.3 627,291.4 627.6,294.9 629.7,313.6 630.6,320.2 631.5,324.8 632.4,327.4 632.7,328 633.3,328.8 633.9,329.3 634.5,329.6 637.2,330 639.6,331 640.5,331.3 645,331.9 646.5,332.2 647.7,332.7 648,333.5 648.3,335 648.9,339.6 649.8,361.6 650.1,362.1 651,361.7 651.3,358.3 652.2,334.8 653.4,307.4 653.7,302.5 654,300.9 654.3,302.5 655.2,316.1 655.8,323.1 656.1,325.2 656.4,326.4 657,327.7 658.2,328.9 660.9,330.9 662.7,332.9 663.3,333.3 663.6,333.4 664.2,333.4 665.1,333.1 666,332.5 668.4,330.7 669.3,330.2 669.9,330.1 671.1,330.1 672.6,330.3 677.7,331.7" fill="none" stroke="#2f7ddf" stroke-width="1.15" stroke-linejoin="round"/>
<polyline points="478.5,330.4 480.9,329.8 481.8,329.4 482.7,328.7 483.3,328.1 483.9,327.1 484.5,325.6 484.8,324.5 485.4,321.3 486,316.6 487.8,295.9 488.1,294.1 488.4,293.8 488.7,295.1 489,297.8 490.5,315.7 491.4,322.5 492,325.2 492.3,326.2 492.9,327.5 493.8,328.6 494.4,329.1 495.3,329.6 496.5,330 498.3,330.4 500.4,330.7 503.4,330.9 513.3,331.1 519.9,331 521.7,330.8 526.5,330.1 527.1,329.8 528.6,328.8 529.2,328.8 530.4,329.3 531,329.2 531.3,329 531.9,328.3 533.7,324.9 534,324.6 534.3,324.4 534.6,324.5 534.9,324.8 536.4,327.4 537,328.3 537.6,328.9 538.5,329.3 539.4,329.5 540.9,329.6 547.8,329.7 549.3,329.3 550.5,329.3 551.7,329.9 552,329.6 552.9,326.5 553.2,326.2 554.4,326.8 554.7,326.8 555.9,326 557.1,325.8 558.3,326.7 558.6,326.7 559.5,326.7 559.8,326.6 561,325.6 562.2,325.3 562.5,325.4 562.8,325.7 563.7,327.4 564.3,327.9 564.6,328 564.9,328 565.2,328.9 566.1,329.1 567,328.9 567.6,328.6 568.8,327.7 569.4,327.5 570,327.7 572.1,329.8 573.6,330.9 575.4,332.3 576,332.7 576.6,332.8 576.9,332.8 579.3,331.8 579.9,331.7 580.2,331.8 580.8,332.2 581.4,332.9 583.8,336 584.4,336.5 585,336.8 585.6,336.7 586.5,335.9 588.6,332.9 589.5,331.9 590.1,331.5 591.6,331.1 592.5,330.5 593.4,329.7 595.2,327.7 595.8,327.3 596.1,327.3 596.7,327.4 597.3,327.8 599.1,329.8 600,330.6 600.9,331.1 602.1,331.5 603,332.1 604.2,333.2 606.6,335.9 607.5,336.8 608.4,337.5 609.3,337.8 609.6,337.9 609.9,337.7 610.2,337.4 610.8,336.3 612,333.6 612.6,332.8 614.7,331.9 618,331 619.2,330.3 619.8,329.8 620.4,328.9 621,327.6 621.6,325.7 622.2,323.2 622.8,320.1 624.6,308.9 625.2,305.8 625.8,303.7 626.1,303.3 626.4,303.2 626.7,303.5 627,304.2 627.6,306.5 629.7,319.1 630.6,323.5 631.5,326.6 632.4,328.4 633.3,329.3 634.2,329.7 635.1,329.9 636.9,330.1 640.2,331.3 645.6,332 646.8,332.3 647.7,332.7 648,333.5 648.3,335.1 648.9,339.6 649.8,361.8 650.1,362.3 651,361.9 651.3,358.7 652.2,335.9 653.1,317.9 653.7,308.1 654,306.9 654.3,308.1 655.5,321.6 655.8,323.8 656.1,325.1 656.4,325.8 656.7,326 657.6,325.8 657.9,325.8 658.2,326.1 660,329.6 662.7,332.8 663.3,333.3 663.6,333.4 664.2,333.4 664.8,333.3 666,332.5 668.4,330.7 669.3,330.2 669.9,330.1 671.1,330.1 672.6,330.3 677.7,331.7" fill="none" stroke="#3bb27a" stroke-width="1.15" stroke-linejoin="round"/>
<polyline points="478.5,330.4 480.9,329.8 481.8,329.4 482.7,328.7 483.3,328.1 483.9,327.1 484.5,325.6 484.8,324.5 485.4,321.3 486,316.6 487.8,295.9 488.1,294.1 488.4,293.8 488.7,295.1 489,297.8 490.2,312.5 490.8,318.4 491.4,322.5 492,325.2 492.3,326.2 492.9,327.5 493.8,328.6 494.7,329.3 495.6,329.7 496.8,330.1 498,330.4 500.7,330.7 504,330.9 514.5,331 520.8,330.9 525.9,330.2 526.5,330 527.1,329.6 528.6,328.2 528.9,328.2 529.2,328.2 530.1,328.8 530.4,328.9 530.7,328.9 531,328.8 531.3,328.5 531.6,328 532.2,326.7 533.7,322.6 534,322.1 534.3,321.9 534.6,322 534.9,322.4 536.4,326.3 537,327.6 537.6,328.5 538.2,329 539.1,329.3 540.3,329.5 547.8,329.7 548.1,329.8 549.3,330.5 550.5,329 550.8,328.9 551.7,328.8 552,328.6 552.6,327.4 552.9,327.2 553.2,327.4 554.4,326.8 555.9,327.2 557.1,326.9 558.3,326.4 559.8,326.5 561,325.9 562.2,324.6 562.5,324.7 563.1,325.7 564.3,328.5 564.9,329.5 565.2,328.9 566.1,329.1 567,328.9 567.6,328.6 568.8,327.7 569.4,327.5 570,327.7 572.1,329.8 573.6,330.9 575.4,332.4 576,332.7 576.6,332.8 577.2,332.7 579.3,331.8 579.9,331.8 580.2,331.9 580.8,332.6 581.4,333.6 583.8,338.6 584.4,339.5 585,339.9 585.3,339.9 585.6,339.8 586.2,339.1 587.1,337.4 588.9,333.2 589.5,332.2 589.8,331.9 590.1,331.7 591.6,331.5 592.5,331.2 595.5,329.9 596.1,329.8 596.7,329.8 597.3,330 599.7,331.2 601.8,331.6 602.7,332.2 603.3,332.7 604.2,333.8 606.6,337.4 607.5,338.6 608.1,339.2 608.7,339.6 609.6,339.9 609.9,339.8 610.2,339.3 610.8,337.7 612,334 612.3,333.3 612.6,332.9 613.8,332.3 615,331.9 619.2,330.9 620.1,330.5 620.7,330 621.6,328.9 622.5,327.2 624.6,321.9 625.2,320.6 625.8,319.7 626.1,319.5 626.4,319.5 626.7,319.6 627,319.8 627.6,320.8 629.7,325.8 630.6,327.6 631.5,328.8 632.4,329.6 633,329.8 633.9,330 637.2,330.3 640.2,331.4 645.3,332 646.8,332.4 647.7,332.9 648,333.7 648.3,335.2 648.9,339.8 649.8,362 650.1,362.5 651,362.3 651.3,359.3 652.2,338.1 653.4,321.6 653.7,319.4 654,318.7 654.3,319.2 655.2,323.5 655.5,324.6 655.8,325.2 656.1,325.3 656.4,324.9 657.6,321.5 657.9,321.1 658.2,321.4 658.5,322.3 659.7,327.6 660.3,329.4 660.9,330.4 661.8,331.7 662.7,332.8 663.3,333.3 663.6,333.4 664.2,333.4 665.1,333.1 666,332.5 668.4,330.7 669.3,330.2 669.9,330.1 671.1,330.1 672.6,330.3 677.7,331.7" fill="none" stroke="#d8a21e" stroke-width="1.15" stroke-linejoin="round"/>
<polyline points="478.5,330.4 480.9,329.8 481.8,329.4 482.7,328.7 483.3,328.1 483.9,327.1 484.5,325.6 484.8,324.5 485.4,321.3 486,316.6 487.8,295.9 488.1,294.1 488.4,293.8 488.7,295.1 489,297.8 490.5,315.6 491.4,322.5 492,325.2 492.3,326.2 492.9,327.5 493.8,328.6 494.4,329.1 495.3,329.6 497.4,330.3 500.1,330.7 504,330.9 509.1,331 515.4,331 520.5,330.8 523.2,330.4 525.9,329.8 526.5,329.4 527.1,328.6 528.3,325.9 528.6,325.4 528.9,325.3 529.2,325.4 530.1,326.7 530.4,326.9 530.7,326.9 531,326.5 531.3,325.8 531.9,323.3 533.7,312 534,310.9 534.3,310.5 534.6,310.8 534.9,311.8 536.4,321.3 537,324.5 537.3,325.7 537.9,327.3 538.2,327.9 538.8,328.6 539.7,329 540.9,329.3 543.6,329.5 548.1,329.7 550.5,330.2 550.8,330.1 552,329.3 552.6,329.2 553.2,329.2 555.6,329.9 555.9,329.9 557.1,329.1 558.6,328.9 561,329.3 562.2,328.7 562.5,328.8 563.7,329.8 564.9,330.3 565.2,329.6 566.1,329.2 566.7,328.5 567.3,327.5 568.8,323.8 569.1,323.3 569.4,323.1 569.7,323.2 570,323.6 570.3,324.2 571.5,327.4 572.1,328.7 573.6,330.9 575.4,335.5 576,336.7 576.3,337.1 576.6,337.2 576.9,337.1 577.2,336.7 578.7,333.1 579.3,331.9 579.6,331.7 579.9,331.8 580.2,332 580.8,333.2 581.4,335.1 583.8,344.1 584.4,345.7 584.7,346.2 585,346.4 585.3,346.5 585.6,346.3 585.9,346 586.5,345 587.1,343.6 588.9,338.7 589.5,337.3 590.1,336.4 591.9,335 594,333.6 595.8,332.6 597.3,332 598.8,331.6 600.6,331.4 601.8,331.5 602.4,331.8 603,332.4 603.9,333.6 606.6,338.4 607.5,339.8 608.1,340.5 608.7,341.1 609.3,341.4 609.6,341.4 609.9,341.2 610.5,339.8 611.7,335.1 612.3,333.3 612.6,332.9 613.8,332.3 615.3,331.8 617.1,331.3 623.4,330 625.8,329.7 629.1,329.6 636.9,330.2 640.2,331.4 645.3,332.1 646.8,332.5 647.7,332.9 648,333.7 648.3,335.2 648.9,339.9 649.8,362.1 650.1,362.6 651,362.5 651.3,359.5 652.2,339 653.4,324.9 653.7,323.2 654,322.8 654.3,323.1 655.2,325.5 655.5,326.2 655.8,326.5 656.1,326.6 656.4,326.3 657.6,324.3 657.9,324.2 658.2,324.4 658.5,325.1 659.7,328.6 660.3,329.9 662.4,332.6 663,333.1 663.6,333.5 664.2,333.5 665.1,333.1 666,332.6 668.4,330.7 669.3,330.2 669.9,330.1 671.1,330.1 672.6,330.3 677.7,331.7" fill="none" stroke="#875a5a" stroke-width="1.15" stroke-linejoin="round"/>
<text x="481.8" y="283.8" font-size="8.8" fill="#1a1a1a">2226</text>
<text x="514.5" y="306.2" font-size="8.8" fill="#1a1a1a">1920</text>
<text x="524.3" y="292.8" font-size="8.8" fill="#1a1a1a">1886</text>
<text x="546.6" y="309.3" font-size="8.8" fill="#2424f0">1660</text>
<text x="555.8" y="292.8" font-size="8.8" fill="#1a1a1a">1616</text>
<text x="573.6" y="281" font-size="8.8" fill="#1a1a1a">1486</text>
<text x="583.4" y="266.6" font-size="8.8" fill="#2424f0">1412</text>
<text x="599.8" y="294.7" font-size="8.8" fill="#d4a326">1302</text>
<text x="620.8" y="238.7" font-size="8.8" fill="#f42a32">1163</text>
<text x="649.7" y="265.8" font-size="8.8" fill="#f42a32">980</text>
<text x="657.3" y="284.1" font-size="8.8" fill="#2424f0">958</text>
<path d="M14.6 208.4 H213.6 V360.5 H14.6 Z" fill="none" stroke="#3a3a3a" stroke-width="1.2"/>
<line x1="14.65" y1="360.5" x2="14.65" y2="363.7" stroke="#3a3a3a" stroke-width="1.0"/>
<text x="14.65" y="372.4" font-size="8.8" fill="#1a1a1a" text-anchor="middle">−5</text>
<line x1="43.1" y1="360.5" x2="43.1" y2="363.7" stroke="#3a3a3a" stroke-width="1.0"/>
<text x="43.1" y="372.4" font-size="8.8" fill="#1a1a1a" text-anchor="middle">0</text>
<line x1="71.55" y1="360.5" x2="71.55" y2="363.7" stroke="#3a3a3a" stroke-width="1.0"/>
<text x="71.55" y="372.4" font-size="8.8" fill="#1a1a1a" text-anchor="middle">5</text>
<line x1="100" y1="360.5" x2="100" y2="363.7" stroke="#3a3a3a" stroke-width="1.0"/>
<text x="100" y="372.4" font-size="8.8" fill="#1a1a1a" text-anchor="middle">10</text>
<line x1="128.45" y1="360.5" x2="128.45" y2="363.7" stroke="#3a3a3a" stroke-width="1.0"/>
<text x="128.45" y="372.4" font-size="8.8" fill="#1a1a1a" text-anchor="middle">15</text>
<line x1="156.9" y1="360.5" x2="156.9" y2="363.7" stroke="#3a3a3a" stroke-width="1.0"/>
<text x="156.9" y="372.4" font-size="8.8" fill="#1a1a1a" text-anchor="middle">20</text>
<line x1="185.35" y1="360.5" x2="185.35" y2="363.7" stroke="#3a3a3a" stroke-width="1.0"/>
<text x="185.35" y="372.4" font-size="8.8" fill="#1a1a1a" text-anchor="middle">25</text>
<line x1="213.8" y1="360.5" x2="213.8" y2="363.7" stroke="#3a3a3a" stroke-width="1.0"/>
<text x="213.8" y="372.4" font-size="8.8" fill="#1a1a1a" text-anchor="middle">30</text>
<text x="114.8" y="387.7" font-size="10.3" fill="#1a1a1a" text-anchor="middle">Time on steam (min)</text>
<text transform="translate(9.7 283.6) rotate(-90)" font-size="10.3" fill="#1a1a1a" text-anchor="middle">N<tspan font-size="6.8" dy="2.4">2</tspan><tspan dy="-2.4"> formation (ppm)</tspan></text>
<text x="1.2" y="217.6" font-size="17" fill="#000" font-weight="bold">d</text>
<line x1="20.6" y1="213.4" x2="20.6" y2="228.6" stroke="#333" stroke-width="1.1"/>
<text x="23" y="224.3" font-size="8.0" fill="#1a1a1a">100</text>
<g>
<polyline points="46,358.4 49,316.3 52.1,333.3 55.2,340.4 58.2,344.8 61.3,351 64.4,352 67.5,355.5 76.7,358.2 79.8,358.1 89,358.4 92.1,358.1 95.2,358.8 98.3,359 101.4,358.5 104.4,358.5 107.5,358.1 110.6,358.1 113.7,358.3 116.8,358.3 119.8,358.8 122.9,358.2 126,358 129.1,359 135.2,358.1 138.3,358.5 141.4,358 147.6,359 153.7,358.7 156.8,358.3 159.9,358.4 163,358.2 166,358.8 169.1,358.5 172.2,358.8 175.3,358.3 178.4,358.2 181.4,358.8 184.5,359 187.6,358.9 196.8,358.7 199.9,358.2 203,358.5 206.1,358.4 209.2,358 212.2,358" fill="none" stroke="#b2b2fa" stroke-width="0.9" stroke-linejoin="round"/>
<rect x="47.35" y="314.65" width="3.3" height="3.3" fill="#8a8af8"/>
<rect x="50.43" y="331.65" width="3.3" height="3.3" fill="#8a8af8"/>
<rect x="53.51" y="338.75" width="3.3" height="3.3" fill="#8a8af8"/>
<rect x="56.59" y="343.15" width="3.3" height="3.3" fill="#8a8af8"/>
<rect x="59.67" y="349.35" width="3.3" height="3.3" fill="#8a8af8"/>
<rect x="62.75" y="350.35" width="3.3" height="3.3" fill="#8a8af8"/>
<rect x="65.83" y="353.85" width="3.3" height="3.3" fill="#8a8af8"/>
<rect x="68.91" y="354.75" width="3.3" height="3.3" fill="#8a8af8"/>
<rect x="71.99" y="355.65" width="3.3" height="3.3" fill="#8a8af8"/>
<rect x="75.07" y="356.55" width="3.3" height="3.3" fill="#8a8af8"/>
<rect x="78.15" y="356.5" width="3.3" height="3.3" fill="#8a8af8"/>
<rect x="81.23" y="356.6" width="3.3" height="3.3" fill="#8a8af8"/>
<rect x="84.31" y="356.7" width="3.3" height="3.3" fill="#8a8af8"/>
<rect x="87.39" y="356.71" width="3.3" height="3.3" fill="#8a8af8"/>
<rect x="90.47" y="356.47" width="3.3" height="3.3" fill="#8a8af8"/>
<rect x="93.55" y="357.2" width="3.3" height="3.3" fill="#8a8af8"/>
<rect x="96.63" y="357.34" width="3.3" height="3.3" fill="#8a8af8"/>
<rect x="99.71" y="356.82" width="3.3" height="3.3" fill="#8a8af8"/>
<rect x="102.79" y="356.83" width="3.3" height="3.3" fill="#8a8af8"/>
<rect x="105.87" y="356.44" width="3.3" height="3.3" fill="#8a8af8"/>
<rect x="108.95" y="356.45" width="3.3" height="3.3" fill="#8a8af8"/>
<rect x="112.03" y="356.69" width="3.3" height="3.3" fill="#8a8af8"/>
<rect x="115.11" y="356.61" width="3.3" height="3.3" fill="#8a8af8"/>
<rect x="118.19" y="357.18" width="3.3" height="3.3" fill="#8a8af8"/>
<rect x="121.27" y="356.51" width="3.3" height="3.3" fill="#8a8af8"/>
<rect x="124.35" y="356.37" width="3.3" height="3.3" fill="#8a8af8"/>
<rect x="127.43" y="357.3" width="3.3" height="3.3" fill="#8a8af8"/>
<rect x="130.51" y="356.88" width="3.3" height="3.3" fill="#8a8af8"/>
<rect x="133.59" y="356.5" width="3.3" height="3.3" fill="#8a8af8"/>
<rect x="136.67" y="356.89" width="3.3" height="3.3" fill="#8a8af8"/>
<rect x="139.75" y="356.38" width="3.3" height="3.3" fill="#8a8af8"/>
<rect x="142.83" y="356.88" width="3.3" height="3.3" fill="#8a8af8"/>
<rect x="145.91" y="357.33" width="3.3" height="3.3" fill="#8a8af8"/>
<rect x="148.99" y="357.21" width="3.3" height="3.3" fill="#8a8af8"/>
<rect x="152.07" y="357.05" width="3.3" height="3.3" fill="#8a8af8"/>
<rect x="155.15" y="356.61" width="3.3" height="3.3" fill="#8a8af8"/>
<rect x="158.23" y="356.72" width="3.3" height="3.3" fill="#8a8af8"/>
<rect x="161.31" y="356.52" width="3.3" height="3.3" fill="#8a8af8"/>
<rect x="164.39" y="357.12" width="3.3" height="3.3" fill="#8a8af8"/>
<rect x="167.47" y="356.88" width="3.3" height="3.3" fill="#8a8af8"/>
<rect x="170.55" y="357.13" width="3.3" height="3.3" fill="#8a8af8"/>
<rect x="173.63" y="356.68" width="3.3" height="3.3" fill="#8a8af8"/>
<rect x="176.71" y="356.57" width="3.3" height="3.3" fill="#8a8af8"/>
<rect x="179.79" y="357.16" width="3.3" height="3.3" fill="#8a8af8"/>
<rect x="182.87" y="357.33" width="3.3" height="3.3" fill="#8a8af8"/>
<rect x="185.95" y="357.2" width="3.3" height="3.3" fill="#8a8af8"/>
<rect x="189.03" y="357.16" width="3.3" height="3.3" fill="#8a8af8"/>
<rect x="192.11" y="357.17" width="3.3" height="3.3" fill="#8a8af8"/>
<rect x="195.19" y="357.09" width="3.3" height="3.3" fill="#8a8af8"/>
<rect x="198.27" y="356.58" width="3.3" height="3.3" fill="#8a8af8"/>
<rect x="201.35" y="356.87" width="3.3" height="3.3" fill="#8a8af8"/>
<rect x="204.43" y="356.71" width="3.3" height="3.3" fill="#8a8af8"/>
<rect x="207.51" y="356.38" width="3.3" height="3.3" fill="#8a8af8"/>
<rect x="210.59" y="356.38" width="3.3" height="3.3" fill="#8a8af8"/>
<polyline points="46.1,358.5 49.2,234.9 52.3,234.9 55.4,247.4 58.4,262 64.6,288.6 67.7,299.2 70.8,308 73.8,315.7 76.9,321.8 80,327.5 83.1,332 86.2,337.7 89.2,341.7 92.3,345.1 95.4,348.3 98.5,351 101.6,352.2 104.6,352.9 107.7,353.9 110.8,354.2 113.9,354 117,354.1 120,354.9 123.1,355.3 126.2,354.7 129.3,355.5 135.4,355.8 138.5,355.1 141.6,355 147.8,355.2 150.8,355.3 153.9,356 157,356.5 160.1,356.6 163.2,356.1 169.3,356.5 172.4,355.5 175.5,356.3 178.6,356.7 181.6,356.5 184.7,356.5 190.9,355.6 194,356.5 197,355.9 200.1,356.5 203.2,356.8 206.3,356 209.4,356 212.4,356.7" fill="none" stroke="#a9cdf2" stroke-width="0.8" stroke-linejoin="round"/>
<circle cx="49.2" cy="234.9" r="2.15" fill="#2f86e0"/>
<circle cx="52.28" cy="234.9" r="2.15" fill="#2f86e0"/>
<circle cx="55.36" cy="247.4" r="2.15" fill="#2f86e0"/>
<circle cx="58.44" cy="262" r="2.15" fill="#2f86e0"/>
<circle cx="61.52" cy="275.3" r="2.15" fill="#2f86e0"/>
<circle cx="64.6" cy="288.6" r="2.15" fill="#2f86e0"/>
<circle cx="67.68" cy="299.2" r="2.15" fill="#2f86e0"/>
<circle cx="70.76" cy="308" r="2.15" fill="#2f86e0"/>
<circle cx="73.84" cy="315.7" r="2.15" fill="#2f86e0"/>
<circle cx="76.92" cy="321.8" r="2.15" fill="#2f86e0"/>
<circle cx="80" cy="327.5" r="2.15" fill="#2f86e0"/>
<circle cx="83.08" cy="332" r="2.15" fill="#2f86e0"/>
<circle cx="86.16" cy="337.7" r="2.15" fill="#2f86e0"/>
<circle cx="89.24" cy="341.7" r="2.15" fill="#2f86e0"/>
<circle cx="92.32" cy="345.1" r="2.15" fill="#2f86e0"/>
<circle cx="95.4" cy="348.3" r="2.15" fill="#2f86e0"/>
<circle cx="98.48" cy="351" r="2.15" fill="#2f86e0"/>
<circle cx="101.56" cy="352.2" r="2.15" fill="#2f86e0"/>
<circle cx="104.64" cy="352.9" r="2.15" fill="#2f86e0"/>
<circle cx="107.72" cy="353.9" r="2.15" fill="#2f86e0"/>
<circle cx="110.8" cy="354.2" r="2.15" fill="#2f86e0"/>
<circle cx="113.88" cy="354.04" r="2.15" fill="#2f86e0"/>
<circle cx="116.96" cy="354.13" r="2.15" fill="#2f86e0"/>
<circle cx="120.04" cy="354.85" r="2.15" fill="#2f86e0"/>
<circle cx="123.12" cy="355.34" r="2.15" fill="#2f86e0"/>
<circle cx="126.2" cy="354.74" r="2.15" fill="#2f86e0"/>
<circle cx="129.28" cy="355.54" r="2.15" fill="#2f86e0"/>
<circle cx="132.36" cy="355.73" r="2.15" fill="#2f86e0"/>
<circle cx="135.44" cy="355.8" r="2.15" fill="#2f86e0"/>
<circle cx="138.52" cy="355.09" r="2.15" fill="#2f86e0"/>
<circle cx="141.6" cy="355.01" r="2.15" fill="#2f86e0"/>
<circle cx="144.68" cy="355.14" r="2.15" fill="#2f86e0"/>
<circle cx="147.76" cy="355.21" r="2.15" fill="#2f86e0"/>
<circle cx="150.84" cy="355.34" r="2.15" fill="#2f86e0"/>
<circle cx="153.92" cy="356.04" r="2.15" fill="#2f86e0"/>
<circle cx="157" cy="356.55" r="2.15" fill="#2f86e0"/>
<circle cx="160.08" cy="356.58" r="2.15" fill="#2f86e0"/>
<circle cx="163.16" cy="356.07" r="2.15" fill="#2f86e0"/>
<circle cx="166.24" cy="356.31" r="2.15" fill="#2f86e0"/>
<circle cx="169.32" cy="356.52" r="2.15" fill="#2f86e0"/>
<circle cx="172.4" cy="355.52" r="2.15" fill="#2f86e0"/>
<circle cx="175.48" cy="356.32" r="2.15" fill="#2f86e0"/>
<circle cx="178.56" cy="356.67" r="2.15" fill="#2f86e0"/>
<circle cx="181.64" cy="356.5" r="2.15" fill="#2f86e0"/>
<circle cx="184.72" cy="356.45" r="2.15" fill="#2f86e0"/>
<circle cx="187.8" cy="356.07" r="2.15" fill="#2f86e0"/>
<circle cx="190.88" cy="355.65" r="2.15" fill="#2f86e0"/>
<circle cx="193.96" cy="356.5" r="2.15" fill="#2f86e0"/>
<circle cx="197.04" cy="355.87" r="2.15" fill="#2f86e0"/>
<circle cx="200.12" cy="356.52" r="2.15" fill="#2f86e0"/>
<circle cx="203.2" cy="356.76" r="2.15" fill="#2f86e0"/>
<circle cx="206.28" cy="355.95" r="2.15" fill="#2f86e0"/>
<circle cx="209.36" cy="355.96" r="2.15" fill="#2f86e0"/>
<circle cx="212.44" cy="356.73" r="2.15" fill="#2f86e0"/>
<polyline points="15.2,355.8 21.4,357.2 24.4,355.8 27.5,356.6 30.6,355.6 33.7,357 36.8,357.3 39.8,356.8 42.9,357.5 46,310.6 49.1,308 52.2,315.9 55.2,323.1 58.3,327.6 61.4,337.7 64.5,339.1 67.6,346.6 70.6,346.6 73.7,350.2 76.8,352 79.9,352.8 83,355.1 86,353.7 89.1,352.5 92.2,354.8 95.3,353.7 98.4,357.6 101.4,357.4 104.5,357.8 110.7,356.7 113.8,357.5 116.8,357.8 123,356.6 126.1,356.8 129.2,355.3 132.2,356.8 135.3,357.1 138.4,356.7 141.5,357.4 144.6,357.7 147.6,357 150.7,357.1 153.8,357.9 156.9,355 160,356.9 163,357.4 166.1,356.6 169.2,357.1 172.3,357.9 175.4,357.3 178.4,357.5 181.5,353.2 184.6,357.8 187.7,357.1 190.8,356.7 193.8,356.7 196.9,354.9 200,354.5 203.1,355.4 206.2,355.1 209.2,356.6 212.3,357.5" fill="none" stroke="#43c096" stroke-width="0.9" stroke-linejoin="round"/>
<path d="M15.2 353.27l2.5 2.5l-2.5 2.5l-2.5 -2.5z" fill="#35b98d"/>
<path d="M18.28 353.96l2.5 2.5l-2.5 2.5l-2.5 -2.5z" fill="#35b98d"/>
<path d="M21.36 354.74l2.5 2.5l-2.5 2.5l-2.5 -2.5z" fill="#35b98d"/>
<path d="M24.44 353.35l2.5 2.5l-2.5 2.5l-2.5 -2.5z" fill="#35b98d"/>
<path d="M27.52 354.12l2.5 2.5l-2.5 2.5l-2.5 -2.5z" fill="#35b98d"/>
<path d="M30.6 353.09l2.5 2.5l-2.5 2.5l-2.5 -2.5z" fill="#35b98d"/>
<path d="M33.68 354.54l2.5 2.5l-2.5 2.5l-2.5 -2.5z" fill="#35b98d"/>
<path d="M36.76 354.76l2.5 2.5l-2.5 2.5l-2.5 -2.5z" fill="#35b98d"/>
<path d="M39.84 354.32l2.5 2.5l-2.5 2.5l-2.5 -2.5z" fill="#35b98d"/>
<path d="M42.92 355.01l2.5 2.5l-2.5 2.5l-2.5 -2.5z" fill="#35b98d"/>
<path d="M46 308.1l2.5 2.5l-2.5 2.5l-2.5 -2.5z" fill="#35b98d"/>
<path d="M49.08 305.5l2.5 2.5l-2.5 2.5l-2.5 -2.5z" fill="#35b98d"/>
<path d="M52.16 313.4l2.5 2.5l-2.5 2.5l-2.5 -2.5z" fill="#35b98d"/>
<path d="M55.24 320.6l2.5 2.5l-2.5 2.5l-2.5 -2.5z" fill="#35b98d"/>
<path d="M58.32 325.1l2.5 2.5l-2.5 2.5l-2.5 -2.5z" fill="#35b98d"/>
<path d="M61.4 335.2l2.5 2.5l-2.5 2.5l-2.5 -2.5z" fill="#35b98d"/>
<path d="M64.48 336.6l2.5 2.5l-2.5 2.5l-2.5 -2.5z" fill="#35b98d"/>
<path d="M67.56 344.1l2.5 2.5l-2.5 2.5l-2.5 -2.5z" fill="#35b98d"/>
<path d="M70.64 344.1l2.5 2.5l-2.5 2.5l-2.5 -2.5z" fill="#35b98d"/>
<path d="M73.72 347.7l2.5 2.5l-2.5 2.5l-2.5 -2.5z" fill="#35b98d"/>
<path d="M76.8 349.5l2.5 2.5l-2.5 2.5l-2.5 -2.5z" fill="#35b98d"/>
<path d="M79.88 350.3l2.5 2.5l-2.5 2.5l-2.5 -2.5z" fill="#35b98d"/>
<path d="M82.96 352.6l2.5 2.5l-2.5 2.5l-2.5 -2.5z" fill="#35b98d"/>
<path d="M86.04 351.2l2.5 2.5l-2.5 2.5l-2.5 -2.5z" fill="#35b98d"/>
<path d="M89.12 350l2.5 2.5l-2.5 2.5l-2.5 -2.5z" fill="#35b98d"/>
<path d="M92.2 352.3l2.5 2.5l-2.5 2.5l-2.5 -2.5z" fill="#35b98d"/>
<path d="M95.28 351.2l2.5 2.5l-2.5 2.5l-2.5 -2.5z" fill="#35b98d"/>
<path d="M98.36 355.07l2.5 2.5l-2.5 2.5l-2.5 -2.5z" fill="#35b98d"/>
<path d="M101.44 354.91l2.5 2.5l-2.5 2.5l-2.5 -2.5z" fill="#35b98d"/>
<path d="M104.52 355.28l2.5 2.5l-2.5 2.5l-2.5 -2.5z" fill="#35b98d"/>
<path d="M107.6 354.76l2.5 2.5l-2.5 2.5l-2.5 -2.5z" fill="#35b98d"/>
<path d="M110.68 354.18l2.5 2.5l-2.5 2.5l-2.5 -2.5z" fill="#35b98d"/>
<path d="M113.76 355.01l2.5 2.5l-2.5 2.5l-2.5 -2.5z" fill="#35b98d"/>
<path d="M116.84 355.25l2.5 2.5l-2.5 2.5l-2.5 -2.5z" fill="#35b98d"/>
<path d="M119.92 354.64l2.5 2.5l-2.5 2.5l-2.5 -2.5z" fill="#35b98d"/>
<path d="M123 354.13l2.5 2.5l-2.5 2.5l-2.5 -2.5z" fill="#35b98d"/>
<path d="M126.08 354.34l2.5 2.5l-2.5 2.5l-2.5 -2.5z" fill="#35b98d"/>
<path d="M129.16 352.75l2.5 2.5l-2.5 2.5l-2.5 -2.5z" fill="#35b98d"/>
<path d="M132.24 354.28l2.5 2.5l-2.5 2.5l-2.5 -2.5z" fill="#35b98d"/>
<path d="M135.32 354.65l2.5 2.5l-2.5 2.5l-2.5 -2.5z" fill="#35b98d"/>
<path d="M138.4 354.21l2.5 2.5l-2.5 2.5l-2.5 -2.5z" fill="#35b98d"/>
<path d="M141.48 354.87l2.5 2.5l-2.5 2.5l-2.5 -2.5z" fill="#35b98d"/>
<path d="M144.56 355.25l2.5 2.5l-2.5 2.5l-2.5 -2.5z" fill="#35b98d"/>
<path d="M147.64 354.49l2.5 2.5l-2.5 2.5l-2.5 -2.5z" fill="#35b98d"/>
<path d="M150.72 354.6l2.5 2.5l-2.5 2.5l-2.5 -2.5z" fill="#35b98d"/>
<path d="M153.8 355.44l2.5 2.5l-2.5 2.5l-2.5 -2.5z" fill="#35b98d"/>
<path d="M156.88 352.46l2.5 2.5l-2.5 2.5l-2.5 -2.5z" fill="#35b98d"/>
<path d="M159.96 354.43l2.5 2.5l-2.5 2.5l-2.5 -2.5z" fill="#35b98d"/>
<path d="M163.04 354.92l2.5 2.5l-2.5 2.5l-2.5 -2.5z" fill="#35b98d"/>
<path d="M166.12 354.11l2.5 2.5l-2.5 2.5l-2.5 -2.5z" fill="#35b98d"/>
<path d="M169.2 354.62l2.5 2.5l-2.5 2.5l-2.5 -2.5z" fill="#35b98d"/>
<path d="M172.28 355.43l2.5 2.5l-2.5 2.5l-2.5 -2.5z" fill="#35b98d"/>
<path d="M175.36 354.82l2.5 2.5l-2.5 2.5l-2.5 -2.5z" fill="#35b98d"/>
<path d="M178.44 355.05l2.5 2.5l-2.5 2.5l-2.5 -2.5z" fill="#35b98d"/>
<path d="M181.52 350.65l2.5 2.5l-2.5 2.5l-2.5 -2.5z" fill="#35b98d"/>
<path d="M184.6 355.32l2.5 2.5l-2.5 2.5l-2.5 -2.5z" fill="#35b98d"/>
<path d="M187.68 354.65l2.5 2.5l-2.5 2.5l-2.5 -2.5z" fill="#35b98d"/>
<path d="M190.76 354.24l2.5 2.5l-2.5 2.5l-2.5 -2.5z" fill="#35b98d"/>
<path d="M193.84 354.19l2.5 2.5l-2.5 2.5l-2.5 -2.5z" fill="#35b98d"/>
<path d="M196.92 352.38l2.5 2.5l-2.5 2.5l-2.5 -2.5z" fill="#35b98d"/>
<path d="M200 352.05l2.5 2.5l-2.5 2.5l-2.5 -2.5z" fill="#35b98d"/>
<path d="M203.08 352.9l2.5 2.5l-2.5 2.5l-2.5 -2.5z" fill="#35b98d"/>
<path d="M206.16 352.65l2.5 2.5l-2.5 2.5l-2.5 -2.5z" fill="#35b98d"/>
<path d="M209.24 354.14l2.5 2.5l-2.5 2.5l-2.5 -2.5z" fill="#35b98d"/>
<path d="M212.32 354.96l2.5 2.5l-2.5 2.5l-2.5 -2.5z" fill="#35b98d"/>
<polyline points="15.2,357 18.3,356.7 21.4,357.6 24.4,356.5 27.5,357.4 30.6,357.1 33.7,356.5 36.8,357.3 39.8,356.5 42.9,357.2 46,321.2 49.1,306.3 52.2,312.9 55.2,317.4 58.3,318.8 61.4,322.5 64.5,326.8 67.6,330.6 73.7,332.4 76.8,335 79.9,335.6 83,336.8 86,337.3 89.1,336.7 92.2,337.4 98.4,339.5 101.4,338.9 104.5,339.6 107.6,340.7 110.7,341.7 113.8,341.5 116.8,341.8 119.9,343.9 123,344.5 126.1,344.3 129.2,343.5 132.2,343.6 135.3,344.4 138.4,344.9 141.5,345.2 144.6,344.1 147.6,346.6 150.7,347.4 153.8,347.1 156.9,347.5 160,347 163,347.5 166.1,348.3 169.2,350.2 172.3,350.1 175.4,349.5 178.4,349.6 181.5,349.4 184.6,348.7 187.7,346.3 190.8,346.3 193.8,346 196.9,346.5 200,346.2 203.1,346.7 206.2,346.7 209.2,346.5 212.3,348" fill="none" stroke="#f4b35c" stroke-width="0.9" stroke-linejoin="round"/>
<circle cx="15.2" cy="356.98" r="1.4" fill="#f9dcae" stroke="#f0a43a" stroke-width="1.0"/>
<circle cx="18.28" cy="356.67" r="1.4" fill="#f9dcae" stroke="#f0a43a" stroke-width="1.0"/>
<circle cx="21.36" cy="357.57" r="1.4" fill="#f9dcae" stroke="#f0a43a" stroke-width="1.0"/>
<circle cx="24.44" cy="356.53" r="1.4" fill="#f9dcae" stroke="#f0a43a" stroke-width="1.0"/>
<circle cx="27.52" cy="357.36" r="1.4" fill="#f9dcae" stroke="#f0a43a" stroke-width="1.0"/>
<circle cx="30.6" cy="357.06" r="1.4" fill="#f9dcae" stroke="#f0a43a" stroke-width="1.0"/>
<circle cx="33.68" cy="356.5" r="1.4" fill="#f9dcae" stroke="#f0a43a" stroke-width="1.0"/>
<circle cx="36.76" cy="357.31" r="1.4" fill="#f9dcae" stroke="#f0a43a" stroke-width="1.0"/>
<circle cx="39.84" cy="356.47" r="1.4" fill="#f9dcae" stroke="#f0a43a" stroke-width="1.0"/>
<circle cx="42.92" cy="357.18" r="1.4" fill="#f9dcae" stroke="#f0a43a" stroke-width="1.0"/>
<circle cx="46" cy="321.2" r="1.4" fill="#f9dcae" stroke="#f0a43a" stroke-width="1.0"/>
<circle cx="49.08" cy="306.3" r="1.4" fill="#f9dcae" stroke="#f0a43a" stroke-width="1.0"/>
<circle cx="52.16" cy="312.9" r="1.4" fill="#f9dcae" stroke="#f0a43a" stroke-width="1.0"/>
<circle cx="55.24" cy="317.4" r="1.4" fill="#f9dcae" stroke="#f0a43a" stroke-width="1.0"/>
<circle cx="58.32" cy="318.8" r="1.4" fill="#f9dcae" stroke="#f0a43a" stroke-width="1.0"/>
<circle cx="61.4" cy="322.5" r="1.4" fill="#f9dcae" stroke="#f0a43a" stroke-width="1.0"/>
<circle cx="64.48" cy="326.8" r="1.4" fill="#f9dcae" stroke="#f0a43a" stroke-width="1.0"/>
<circle cx="67.56" cy="330.6" r="1.4" fill="#f9dcae" stroke="#f0a43a" stroke-width="1.0"/>
<circle cx="70.64" cy="331.5" r="1.4" fill="#f9dcae" stroke="#f0a43a" stroke-width="1.0"/>
<circle cx="73.72" cy="332.4" r="1.4" fill="#f9dcae" stroke="#f0a43a" stroke-width="1.0"/>
<circle cx="76.8" cy="335" r="1.4" fill="#f9dcae" stroke="#f0a43a" stroke-width="1.0"/>
<circle cx="79.88" cy="335.6" r="1.4" fill="#f9dcae" stroke="#f0a43a" stroke-width="1.0"/>
<circle cx="82.96" cy="336.8" r="1.4" fill="#f9dcae" stroke="#f0a43a" stroke-width="1.0"/>
<circle cx="86.04" cy="337.3" r="1.4" fill="#f9dcae" stroke="#f0a43a" stroke-width="1.0"/>
<circle cx="89.12" cy="336.72" r="1.4" fill="#f9dcae" stroke="#f0a43a" stroke-width="1.0"/>
<circle cx="92.2" cy="337.37" r="1.4" fill="#f9dcae" stroke="#f0a43a" stroke-width="1.0"/>
<circle cx="95.28" cy="338.46" r="1.4" fill="#f9dcae" stroke="#f0a43a" stroke-width="1.0"/>
<circle cx="98.36" cy="339.53" r="1.4" fill="#f9dcae" stroke="#f0a43a" stroke-width="1.0"/>
<circle cx="101.44" cy="338.85" r="1.4" fill="#f9dcae" stroke="#f0a43a" stroke-width="1.0"/>
<circle cx="104.52" cy="339.56" r="1.4" fill="#f9dcae" stroke="#f0a43a" stroke-width="1.0"/>
<circle cx="107.6" cy="340.73" r="1.4" fill="#f9dcae" stroke="#f0a43a" stroke-width="1.0"/>
<circle cx="110.68" cy="341.66" r="1.4" fill="#f9dcae" stroke="#f0a43a" stroke-width="1.0"/>
<circle cx="113.76" cy="341.54" r="1.4" fill="#f9dcae" stroke="#f0a43a" stroke-width="1.0"/>
<circle cx="116.84" cy="341.85" r="1.4" fill="#f9dcae" stroke="#f0a43a" stroke-width="1.0"/>
<circle cx="119.92" cy="343.89" r="1.4" fill="#f9dcae" stroke="#f0a43a" stroke-width="1.0"/>
<circle cx="123" cy="344.47" r="1.4" fill="#f9dcae" stroke="#f0a43a" stroke-width="1.0"/>
<circle cx="126.08" cy="344.28" r="1.4" fill="#f9dcae" stroke="#f0a43a" stroke-width="1.0"/>
<circle cx="129.16" cy="343.49" r="1.4" fill="#f9dcae" stroke="#f0a43a" stroke-width="1.0"/>
<circle cx="132.24" cy="343.56" r="1.4" fill="#f9dcae" stroke="#f0a43a" stroke-width="1.0"/>
<circle cx="135.32" cy="344.42" r="1.4" fill="#f9dcae" stroke="#f0a43a" stroke-width="1.0"/>
<circle cx="138.4" cy="344.92" r="1.4" fill="#f9dcae" stroke="#f0a43a" stroke-width="1.0"/>
<circle cx="141.48" cy="345.24" r="1.4" fill="#f9dcae" stroke="#f0a43a" stroke-width="1.0"/>
<circle cx="144.56" cy="344.1" r="1.4" fill="#f9dcae" stroke="#f0a43a" stroke-width="1.0"/>
<circle cx="147.64" cy="346.62" r="1.4" fill="#f9dcae" stroke="#f0a43a" stroke-width="1.0"/>
<circle cx="150.72" cy="347.36" r="1.4" fill="#f9dcae" stroke="#f0a43a" stroke-width="1.0"/>
<circle cx="153.8" cy="347.06" r="1.4" fill="#f9dcae" stroke="#f0a43a" stroke-width="1.0"/>
<circle cx="156.88" cy="347.51" r="1.4" fill="#f9dcae" stroke="#f0a43a" stroke-width="1.0"/>
<circle cx="159.96" cy="347.05" r="1.4" fill="#f9dcae" stroke="#f0a43a" stroke-width="1.0"/>
<circle cx="163.04" cy="347.47" r="1.4" fill="#f9dcae" stroke="#f0a43a" stroke-width="1.0"/>
<circle cx="166.12" cy="348.32" r="1.4" fill="#f9dcae" stroke="#f0a43a" stroke-width="1.0"/>
<circle cx="169.2" cy="350.21" r="1.4" fill="#f9dcae" stroke="#f0a43a" stroke-width="1.0"/>
<circle cx="172.28" cy="350.14" r="1.4" fill="#f9dcae" stroke="#f0a43a" stroke-width="1.0"/>
<circle cx="175.36" cy="349.48" r="1.4" fill="#f9dcae" stroke="#f0a43a" stroke-width="1.0"/>
<circle cx="178.44" cy="349.64" r="1.4" fill="#f9dcae" stroke="#f0a43a" stroke-width="1.0"/>
<circle cx="181.52" cy="349.43" r="1.4" fill="#f9dcae" stroke="#f0a43a" stroke-width="1.0"/>
<circle cx="184.6" cy="348.73" r="1.4" fill="#f9dcae" stroke="#f0a43a" stroke-width="1.0"/>
<circle cx="187.68" cy="346.33" r="1.4" fill="#f9dcae" stroke="#f0a43a" stroke-width="1.0"/>
<circle cx="190.76" cy="346.25" r="1.4" fill="#f9dcae" stroke="#f0a43a" stroke-width="1.0"/>
<circle cx="193.84" cy="346.03" r="1.4" fill="#f9dcae" stroke="#f0a43a" stroke-width="1.0"/>
<circle cx="196.92" cy="346.55" r="1.4" fill="#f9dcae" stroke="#f0a43a" stroke-width="1.0"/>
<circle cx="200" cy="346.22" r="1.4" fill="#f9dcae" stroke="#f0a43a" stroke-width="1.0"/>
<circle cx="203.08" cy="346.72" r="1.4" fill="#f9dcae" stroke="#f0a43a" stroke-width="1.0"/>
<circle cx="206.16" cy="346.74" r="1.4" fill="#f9dcae" stroke="#f0a43a" stroke-width="1.0"/>
<circle cx="209.24" cy="346.46" r="1.4" fill="#f9dcae" stroke="#f0a43a" stroke-width="1.0"/>
<circle cx="212.32" cy="348.02" r="1.4" fill="#f9dcae" stroke="#f0a43a" stroke-width="1.0"/>
</g>
<line x1="72" y1="218" x2="93.5" y2="218" stroke="#b2b2fa" stroke-width="0.9"/>
<rect x="81.13" y="216.43" width="3.13" height="3.13" fill="#8a8af8"/>
<text x="96.3" y="221" font-size="9.0" fill="#9494f2">b:</text>
<text x="154" y="221" font-size="9.5" fill="#9494f2" text-anchor="end">Ir/CeO<tspan font-size="6.2" dy="2.2">2</tspan></text>
<text x="154.2" y="221" font-size="9.0" fill="#9494f2">: ad<tspan font-size="6.4" dy="2.4">NH</tspan><tspan font-size="4.6" dy="1.2">3</tspan></text>
<path d="M185 218.4H192.2" stroke="#9494f2" stroke-width="0.9" fill="none"/><path d="M194.2 218.4l-3 -1.6v3.2z" fill="#9494f2"/>
<text x="197" y="221" font-size="9.0" fill="#9494f2">O<tspan font-size="6.2" dy="2.2">2</tspan></text>
<line x1="72" y1="233" x2="93.5" y2="233" stroke="#b8d6f3" stroke-width="1.8"/>
<circle cx="82.7" cy="233" r="2.04" fill="#2f86e0"/>
<text x="96.3" y="236" font-size="9.0" fill="#2f86e0">c:</text>
<text x="154" y="236" font-size="9.5" fill="#2f86e0" text-anchor="end">W<tspan font-size="6.2" dy="2.2">7</tspan><tspan dy="-2.2">/CeO</tspan><tspan font-size="6.2" dy="2.2">2</tspan></text>
<text x="154.2" y="236" font-size="9.0" fill="#2f86e0">: ad<tspan font-size="6.4" dy="2.4">NH</tspan><tspan font-size="4.6" dy="1.2">3</tspan></text>
<path d="M185 233.4H192.2" stroke="#2f86e0" stroke-width="0.9" fill="none"/><path d="M194.2 233.4l-3 -1.6v3.2z" fill="#2f86e0"/>
<text x="197" y="236" font-size="9.0" fill="#2f86e0">NO</text>
<line x1="72" y1="248.4" x2="93.5" y2="248.4" stroke="#43c096" stroke-width="1.0"/>
<path d="M82.7 246.03l2.38 2.38l-2.38 2.38l-2.38 -2.38z" fill="#35b98d"/>
<text x="96.3" y="251.4" font-size="9.0" fill="#35b98d">e:</text>
<text x="154" y="251.4" font-size="9.5" fill="#35b98d" text-anchor="end">Ir-W<tspan font-size="6.2" dy="2.2">7</tspan><tspan dy="-2.2">/CeO</tspan><tspan font-size="6.2" dy="2.2">2</tspan></text>
<text x="154.2" y="251.4" font-size="9.0" fill="#35b98d">: ad<tspan font-size="6.4" dy="2.4">NH</tspan><tspan font-size="4.6" dy="1.2">3</tspan></text>
<path d="M185 248.8H192.2" stroke="#35b98d" stroke-width="0.9" fill="none"/><path d="M194.2 248.8l-3 -1.6v3.2z" fill="#35b98d"/>
<text x="197" y="251.4" font-size="9.0" fill="#35b98d">O<tspan font-size="6.2" dy="2.2">2</tspan></text>
<line x1="72" y1="263.5" x2="93.5" y2="263.5" stroke="#f4b35c" stroke-width="1.0"/>
<circle cx="82.7" cy="263.5" r="1.33" fill="#f9dcae" stroke="#f0a43a" stroke-width="1.0"/>
<text x="96.3" y="266.5" font-size="9.0" fill="#f0a43a">f:</text>
<text x="154" y="266.5" font-size="9.5" fill="#f0a43a" text-anchor="end">Ir-W<tspan font-size="6.2" dy="2.2">7</tspan><tspan dy="-2.2">/CeO</tspan><tspan font-size="6.2" dy="2.2">2</tspan></text>
<text x="154.2" y="266.5" font-size="9.0" fill="#f0a43a">: ad<tspan font-size="6.4" dy="2.4">NH</tspan><tspan font-size="4.6" dy="1.2">3</tspan></text>
<path d="M185 263.9H192.2" stroke="#f0a43a" stroke-width="0.9" fill="none"/><path d="M194.2 263.9l-3 -1.6v3.2z" fill="#f0a43a"/>
<text x="197" y="266.5" font-size="9.0" fill="#f0a43a">NO</text></svg>
</body></html>
